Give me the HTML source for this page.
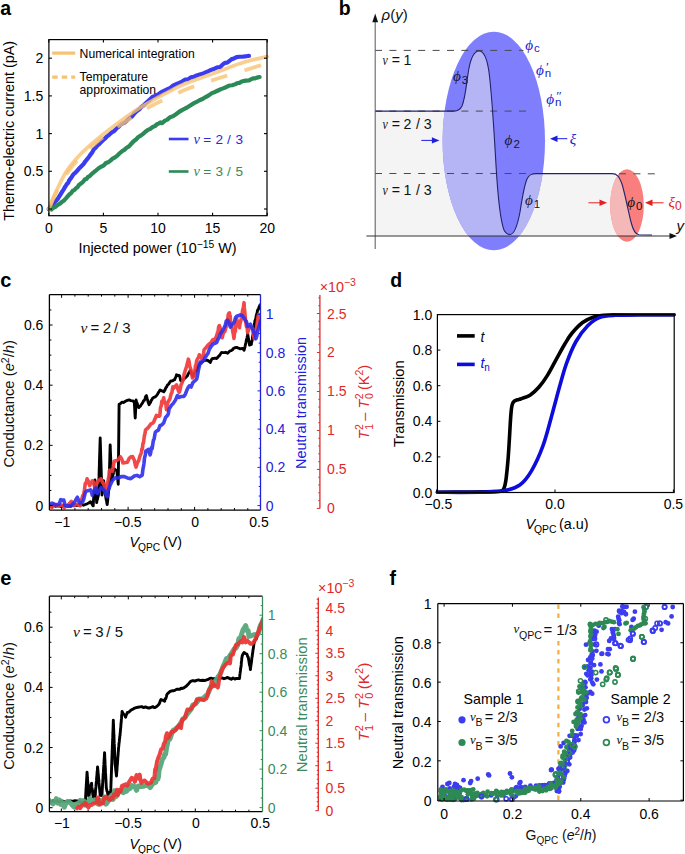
<!DOCTYPE html>
<html><head><meta charset="utf-8"><style>
html,body{margin:0;padding:0;background:#fff;width:685px;height:854px;overflow:hidden}
svg{display:block}
</style></head><body>
<svg width="685" height="854" viewBox="0 0 685 854" font-family="Liberation Sans, sans-serif">
<rect width="685" height="854" fill="#fff"/>
<text x="0.3" y="15.2" font-size="19.5" font-weight="bold" fill="#000">a</text>
<polyline points="48.80,209.00 49.11,208.90 49.52,208.62 50.01,207.38 50.60,206.68 51.28,206.29 52.08,205.80 52.95,204.38 53.90,202.85 54.95,201.83 56.12,200.70 57.45,199.34 58.96,196.94 60.70,194.15 62.67,190.95 63.73,189.35 64.79,187.23 65.89,185.67 66.99,183.94 68.08,183.01 69.18,180.37 71.30,177.65 73.36,174.41 75.44,172.68 77.53,170.28 79.58,167.95 81.59,166.00 83.53,164.06 85.37,161.28 87.15,159.24 88.88,156.91 90.58,154.49 92.28,152.15 94.01,149.03 95.71,147.60 97.37,145.48 99.03,144.33 100.73,142.40 102.54,140.76 104.49,139.04 106.69,136.71 109.12,134.82 111.64,132.39 114.15,131.19 116.50,128.40 118.58,126.83 120.28,124.89 121.69,123.92 122.95,123.21 124.20,122.81 125.61,121.71 127.31,120.13 129.42,117.98 131.82,116.62 134.37,113.35 136.91,111.05 139.31,109.28 141.40,106.90 143.05,105.78 144.35,104.74 145.50,103.29 146.70,102.36 148.14,101.06 150.03,99.46 152.43,97.05 155.20,95.94 158.21,94.50 161.35,92.11 164.49,90.65 167.50,89.19 170.41,87.94 173.32,85.47 176.23,84.19 179.14,82.94 182.05,81.61 184.97,79.63 187.90,79.42 190.83,77.38 193.76,76.90 196.70,75.40 199.63,74.53 202.55,73.83 205.51,72.41 208.52,71.13 211.51,69.67 214.46,68.67 217.32,67.26 220.03,67.16 222.55,64.63 224.91,62.79 227.17,62.61 229.40,61.00 231.66,59.14 234.00,58.48 236.61,57.19 239.47,56.74 242.36,56.73 245.05,56.44 247.32,55.98 248.96,55.94" fill="none" stroke="#3b3bef" stroke-width="4.2" stroke-linejoin="round" stroke-linecap="round" />
<polyline points="48.80,209.00 49.47,208.98 50.35,208.59 51.41,209.46 52.63,208.18 53.95,207.55 55.35,206.88 56.80,205.65 58.32,204.53 59.96,203.70 61.75,201.96 63.73,200.67 65.94,198.38 68.47,195.48 69.88,193.94 71.29,192.95 72.80,190.64 74.31,190.13 75.86,188.42 77.41,187.29 78.97,185.01 80.52,183.85 82.02,182.81 83.53,181.33 85.00,179.26 86.48,178.97 87.99,176.88 89.49,176.31 92.49,173.37 95.44,170.97 98.29,168.48 101.00,166.74 103.53,165.65 105.92,163.03 108.20,162.17 110.45,160.60 112.69,158.52 114.98,157.33 117.30,155.62 119.63,153.25 121.96,151.29 124.29,149.90 126.62,147.72 128.95,146.33 131.30,143.80 133.65,141.23 136.00,139.48 138.36,137.05 140.70,135.68 143.04,133.82 145.43,131.73 147.89,129.89 150.35,128.84 152.72,126.95 154.93,126.11 156.91,124.24 158.49,123.61 159.70,122.99 160.75,122.44 161.85,123.20 163.19,122.27 164.99,120.59 167.30,119.66 169.99,117.17 172.92,116.28 175.98,114.28 179.06,111.91 182.02,110.12 184.90,108.63 187.78,107.05 190.66,105.17 193.57,103.40 196.52,101.97 199.50,100.29 202.54,99.00 205.64,97.07 208.78,95.41 211.91,93.14 215.02,91.96 218.06,90.50 220.96,89.16 223.72,88.10 226.45,86.95 229.26,85.51 232.25,85.23 235.53,84.13 237.48,82.97 239.43,82.83 241.69,81.49 243.94,80.93 246.29,80.57 248.64,80.51 250.86,79.37 253.08,78.33 254.98,78.43 256.87,77.61 259.56,77.05" fill="none" stroke="#2b8a57" stroke-width="4.2" stroke-linejoin="round" stroke-linecap="round" />
<path d="M48.80,209.00 C49.91,206.36 52.59,199.32 55.46,193.17 C58.34,187.01 61.96,178.46 66.05,172.05 C70.15,165.65 74.77,160.24 80.03,154.71 C85.29,149.18 91.79,143.78 97.61,138.88 C103.44,133.98 109.15,129.70 114.98,125.31 C120.80,120.91 126.71,116.38 132.56,112.49 C138.40,108.59 144.62,105.07 150.03,101.93 C155.43,98.79 159.16,96.65 164.99,93.64 C170.81,90.62 175.80,87.61 184.97,83.84 C194.15,80.07 210.09,74.66 220.03,71.02 C229.96,67.37 236.73,64.36 244.60,61.97 C252.46,59.58 263.43,57.57 267.20,56.69" fill="none" stroke="#f7c272" stroke-width="3.8" stroke-linejoin="round" stroke-linecap="round" opacity="0.78"/>
<path d="M50.29,205.38 L50.43,205.02 L50.59,204.65 L50.74,204.27 L50.90,203.89 L51.06,203.49 L51.22,203.09 L51.39,202.69 L51.57,202.27 L51.74,201.85 L51.92,201.43 L52.10,201.00 L52.29,200.57 L52.47,200.13 L52.67,199.69 L52.86,199.25 L53.05,198.81 L53.25,198.36 L53.45,197.91 L53.66,197.47 L53.86,197.02 L54.07,196.57 L54.28,196.12 L54.49,195.68 L54.70,195.24 L54.92,194.79 L55.13,194.36 L55.35,193.92 L55.57,193.48 L55.80,193.04 L56.02,192.59 L56.25,192.13 L56.49,191.67 L56.72,191.20 L56.96,190.73 L57.20,190.25 L57.45,189.77 M66.27,174.32 L66.59,173.86 L66.90,173.40 L67.22,172.94 L67.54,172.48 L67.87,172.03 L68.19,171.58 L68.52,171.13 L68.85,170.68 L69.18,170.23 L69.51,169.79 L69.85,169.34 L70.19,168.90 L70.53,168.46 L70.87,168.02 L71.21,167.58 L71.56,167.14 L71.91,166.71 L72.25,166.27 L72.61,165.84 L72.96,165.41 L73.32,164.98 L73.67,164.55 L74.03,164.12 L74.40,163.69 L74.76,163.27 L75.13,162.84 L75.49,162.42 L75.87,161.99 L76.24,161.57 L76.61,161.15 L76.99,160.73 M89.90,147.98 L90.34,147.58 L90.79,147.18 L91.24,146.79 L91.69,146.40 L92.14,146.01 L92.60,145.62 L93.05,145.24 L93.50,144.85 L93.94,144.47 L94.39,144.09 L94.84,143.71 L95.29,143.34 L95.73,142.96 L96.18,142.59 L96.62,142.23 L97.06,141.86 L97.50,141.50 L97.94,141.14 L98.38,140.78 L98.81,140.43 L99.25,140.08 L99.69,139.73 L100.12,139.38 L100.56,139.04 L101.00,138.70 L101.43,138.36 L101.87,138.02 L102.31,137.69 L102.74,137.36 M117.60,126.83 L118.03,126.54 L118.47,126.24 L118.91,125.95 L119.34,125.66 L119.78,125.37 L120.22,125.08 L120.65,124.79 L121.09,124.51 L121.53,124.22 L121.96,123.94 L122.40,123.65 L122.84,123.37 L123.27,123.09 L123.71,122.81 L124.15,122.53 L124.58,122.25 L125.02,121.97 L125.46,121.69 L125.90,121.41 L126.33,121.13 L126.77,120.85 L127.21,120.58 L127.64,120.30 L128.08,120.03 L128.52,119.75 L128.95,119.48 L129.39,119.20 L129.83,118.93 L130.26,118.65 L130.70,118.38 L131.14,118.11 L131.57,117.83 M147.00,108.36 L147.43,108.11 L147.85,107.87 L148.28,107.63 L148.70,107.39 L149.12,107.15 L149.53,106.91 L149.95,106.68 L150.36,106.46 L150.76,106.23 L151.16,106.01 L151.56,105.80 L151.96,105.59 L152.34,105.38 L152.73,105.18 L153.11,104.98 L153.49,104.78 L153.86,104.59 L154.24,104.39 L154.61,104.21 L154.98,104.02 L155.34,103.84 L155.71,103.65 L156.07,103.47 L156.43,103.30 L156.80,103.12 L157.16,102.94 L157.52,102.77 L157.88,102.59 L158.25,102.42 L158.61,102.24 L158.98,102.07 L159.34,101.90 L159.71,101.72 L160.08,101.55 L160.45,101.37 L160.83,101.19 L161.21,101.02 L161.59,100.84 L161.97,100.66 L162.36,100.47 M178.24,92.87 L178.74,92.64 L179.24,92.41 L179.74,92.18 L180.23,91.95 L180.72,91.73 L181.21,91.51 L181.69,91.29 L182.18,91.08 L182.65,90.86 L183.13,90.66 L183.60,90.45 L184.06,90.25 L184.52,90.06 L184.97,89.87 L185.42,89.68 L185.86,89.50 L186.31,89.32 L186.74,89.14 L187.18,88.97 L187.60,88.80 L188.03,88.63 L188.46,88.47 L188.88,88.31 L189.30,88.15 L189.71,87.99 L190.13,87.84 L190.54,87.68 L190.95,87.53 L191.36,87.39 L191.77,87.24 L192.17,87.09 L192.58,86.95 L192.98,86.81 L193.39,86.66 L193.79,86.52 L194.20,86.38 M211.11,80.67 L211.57,80.52 L212.04,80.37 L212.50,80.22 L212.96,80.07 L213.43,79.92 L213.89,79.76 L214.36,79.61 L214.83,79.46 L215.29,79.31 L215.76,79.16 L216.23,79.01 L216.70,78.86 L217.18,78.71 L217.65,78.56 L218.12,78.41 L218.60,78.26 L219.07,78.11 L219.55,77.95 L220.03,77.80 L220.50,77.65 L220.98,77.50 L221.46,77.35 L221.94,77.20 L222.42,77.06 L222.91,76.91 L223.39,76.76 L223.87,76.61 L224.36,76.46 L224.84,76.31 L225.33,76.17 L225.81,76.02 L226.30,75.87 L226.79,75.72 L227.28,75.58 M244.49,70.35 L245.11,70.16 L245.73,69.97 L246.36,69.77 L247.00,69.58 L247.63,69.38 L248.27,69.18 L248.91,68.98 L249.54,68.79 L250.18,68.59 L250.81,68.39 L251.44,68.20 L252.06,68.00 L252.68,67.81 L253.29,67.62 L253.89,67.43 L254.48,67.25 L255.06,67.07 L255.63,66.89 L256.19,66.72 L256.73,66.55 L257.26,66.38 L257.77,66.22 L258.26,66.07 L258.74,65.92 L259.19,65.78 L259.63,65.64 L260.04,65.51 L260.43,65.39 L260.80,65.28 L261.14,65.17" fill="none" stroke="#f7c272" stroke-width="3.8" stroke-linecap="butt" opacity="0.78"/>
<rect x="48.9" y="39.6" width="218.1" height="176.1" fill="none" stroke="#000" stroke-width="1.2"/>
<line x1="48.80" y1="215.70" x2="48.80" y2="212.70" stroke="#000" stroke-width="1.1" />
<line x1="48.80" y1="39.60" x2="48.80" y2="42.60" stroke="#000" stroke-width="1.1" />
<text x="48.80" y="233.40" font-size="14" text-anchor="middle" fill="#000" >0</text>
<line x1="103.40" y1="215.70" x2="103.40" y2="212.70" stroke="#000" stroke-width="1.1" />
<line x1="103.40" y1="39.60" x2="103.40" y2="42.60" stroke="#000" stroke-width="1.1" />
<text x="103.40" y="233.40" font-size="14" text-anchor="middle" fill="#000" >5</text>
<line x1="158.00" y1="215.70" x2="158.00" y2="212.70" stroke="#000" stroke-width="1.1" />
<line x1="158.00" y1="39.60" x2="158.00" y2="42.60" stroke="#000" stroke-width="1.1" />
<text x="158.00" y="233.40" font-size="14" text-anchor="middle" fill="#000" >10</text>
<line x1="212.60" y1="215.70" x2="212.60" y2="212.70" stroke="#000" stroke-width="1.1" />
<line x1="212.60" y1="39.60" x2="212.60" y2="42.60" stroke="#000" stroke-width="1.1" />
<text x="212.60" y="233.40" font-size="14" text-anchor="middle" fill="#000" >15</text>
<line x1="267.20" y1="215.70" x2="267.20" y2="212.70" stroke="#000" stroke-width="1.1" />
<line x1="267.20" y1="39.60" x2="267.20" y2="42.60" stroke="#000" stroke-width="1.1" />
<text x="267.20" y="233.40" font-size="14" text-anchor="middle" fill="#000" >20</text>
<line x1="48.90" y1="209.00" x2="51.90" y2="209.00" stroke="#000" stroke-width="1.1" />
<line x1="267.00" y1="209.00" x2="264.00" y2="209.00" stroke="#000" stroke-width="1.1" />
<text x="43.20" y="214.00" font-size="14" text-anchor="end" fill="#000" >0</text>
<line x1="48.90" y1="171.30" x2="51.90" y2="171.30" stroke="#000" stroke-width="1.1" />
<line x1="267.00" y1="171.30" x2="264.00" y2="171.30" stroke="#000" stroke-width="1.1" />
<text x="43.20" y="176.30" font-size="14" text-anchor="end" fill="#000" >0.5</text>
<line x1="48.90" y1="133.60" x2="51.90" y2="133.60" stroke="#000" stroke-width="1.1" />
<line x1="267.00" y1="133.60" x2="264.00" y2="133.60" stroke="#000" stroke-width="1.1" />
<text x="43.20" y="138.60" font-size="14" text-anchor="end" fill="#000" >1</text>
<line x1="48.90" y1="95.90" x2="51.90" y2="95.90" stroke="#000" stroke-width="1.1" />
<line x1="267.00" y1="95.90" x2="264.00" y2="95.90" stroke="#000" stroke-width="1.1" />
<text x="43.20" y="100.90" font-size="14" text-anchor="end" fill="#000" >1.5</text>
<line x1="48.90" y1="58.20" x2="51.90" y2="58.20" stroke="#000" stroke-width="1.1" />
<line x1="267.00" y1="58.20" x2="264.00" y2="58.20" stroke="#000" stroke-width="1.1" />
<text x="43.20" y="63.20" font-size="14" text-anchor="end" fill="#000" >2</text>
<text transform="translate(14.3,130.8) rotate(-90)" font-size="14.4" text-anchor="middle" fill="#000">Thermo-electric current (pA)</text>
<text x="78.4" y="253.2" font-size="14.4" fill="#000">Injected power (10<tspan font-size="10.3" dy="-5.6">−15</tspan><tspan dy="5.6"> W)</tspan></text>
<line x1="52.20" y1="53.10" x2="75.20" y2="53.10" stroke="#f7c272" stroke-width="3.2" />
<text x="79.60" y="57.50" font-size="12.2" text-anchor="start" fill="#000" >Numerical integration</text>
<line x1="52.20" y1="77.20" x2="75.20" y2="77.20" stroke="#f7c272" stroke-width="3.2" stroke-dasharray="5.5 4"/>
<text x="79.60" y="81.30" font-size="12.2" text-anchor="start" fill="#000" >Temperature</text>
<text x="79.60" y="94.00" font-size="12.2" text-anchor="start" fill="#000" >approximation</text>
<line x1="168.80" y1="139.00" x2="188.50" y2="139.00" stroke="#3b3bef" stroke-width="2.6" />
<text y="143.8" font-size="13.6" fill="#2a2ae0" text-anchor="middle"><tspan x="196.6" font-family="Liberation Serif, serif" font-style="italic" font-size="14.5">ν</tspan><tspan x="207.2">=</tspan><tspan x="219.3">2</tspan><tspan x="229.0">/</tspan><tspan x="239.4">3</tspan></text>
<line x1="168.80" y1="171.50" x2="188.50" y2="171.50" stroke="#2b8a57" stroke-width="2.6" />
<text y="176.3" font-size="13.6" fill="#3a8a5a" text-anchor="middle"><tspan x="196.6" font-family="Liberation Serif, serif" font-style="italic" font-size="14.5">ν</tspan><tspan x="207.2">=</tspan><tspan x="219.3">3</tspan><tspan x="229.0">/</tspan><tspan x="239.4">5</tspan></text>
<text x="338.8" y="14.6" font-size="19.5" font-weight="bold" fill="#000">b</text>
<defs><clipPath id="under"><path d="M375,111.1 L454,111.1 C458,111.1 460,110 462,106 C465,99 466,88 468,74 C470,60 474,51 479,51 C484,51 487,58 489,72 C492,95 494,130 496,165 C498,200 501,222 504,230 C506,234 508,234.5 510,234.5 C514,234.5 517,228 520,212 C522,199 524,186 527,179 C529,175 531,173.6 536,173.6 L612,173.6 C617,173.6 619,176 622,184 C625,194 628,210 631,222 C633,230 635,234.5 639,234.8 L652,235 L652,236 L375,236 Z"/></clipPath></defs>
<path d="M375,111.1 L454,111.1 C458,111.1 460,110 462,106 C465,99 466,88 468,74 C470,60 474,51 479,51 C484,51 487,58 489,72 C492,95 494,130 496,165 C498,200 501,222 504,230 C506,234 508,234.5 510,234.5 C514,234.5 517,228 520,212 C522,199 524,186 527,179 C529,175 531,173.6 536,173.6 L612,173.6 C617,173.6 619,176 622,184 C625,194 628,210 631,222 C633,230 635,234.5 639,234.8 L652,235 L652,236 L375,236 Z" fill="#f4f4f4"/>
<ellipse cx="493.8" cy="141" rx="51.2" ry="109.3" fill="#7f7ffd"/>
<ellipse cx="493.8" cy="141" rx="51.2" ry="109.3" fill="#b5b5f5" clip-path="url(#under)"/>
<ellipse cx="627" cy="205.5" rx="16.8" ry="36.3" fill="#f97f7f"/>
<ellipse cx="627" cy="205.5" rx="16.8" ry="36.3" fill="#f5b8b8" clip-path="url(#under)"/>
<line x1="375.00" y1="50.40" x2="523.50" y2="50.40" stroke="#4a4a4a" stroke-width="1.0" stroke-dasharray="7 7.4"/>
<line x1="375.00" y1="111.10" x2="527.00" y2="111.10" stroke="#4a4a4a" stroke-width="1.0" stroke-dasharray="7 7.4"/>
<line x1="375.00" y1="173.50" x2="533.00" y2="173.50" stroke="#4a4a4a" stroke-width="1.0" stroke-dasharray="7 7.4"/>
<line x1="619.00" y1="173.80" x2="655.00" y2="173.80" stroke="#4a4a4a" stroke-width="1.0" stroke-dasharray="7 7.4"/>
<path d="M375,111.1 L454,111.1 C458,111.1 460,110 462,106 C465,99 466,88 468,74 C470,60 474,51 479,51 C484,51 487,58 489,72 C492,95 494,130 496,165 C498,200 501,222 504,230 C506,234 508,234.5 510,234.5 C514,234.5 517,228 520,212 C522,199 524,186 527,179 C529,175 531,173.6 536,173.6 L612,173.6 C617,173.6 619,176 622,184 C625,194 628,210 631,222 C633,230 635,234.5 639,234.8 L652,235" fill="none" stroke="#22226a" stroke-width="1.1"/>
<line x1="375.20" y1="249.00" x2="375.20" y2="20.00" stroke="#666" stroke-width="1.1" />
<path d="M375.2,13.6 L372.3,22.3 L378.1,22.3 Z" fill="#111"/>
<line x1="366.40" y1="236.00" x2="671.00" y2="236.00" stroke="#333" stroke-width="1.1" />
<path d="M677,236 L669.5,233 L669.5,239 Z" fill="#111"/>
<text x="381.6" y="19.6" font-size="15" fill="#111"><tspan font-style="italic">ρ</tspan>(<tspan font-style="italic">y</tspan>)</text>
<text x="676.5" y="231" font-size="15" fill="#111" font-style="italic">y</text>
<text transform="translate(385.1,65.1) scale(0.82,1)" font-size="14.5" fill="#111" text-anchor="middle" font-family="Liberation Serif, serif" font-style="italic">ν</text>
<text y="65.1" font-size="14.2" fill="#111" text-anchor="middle"><tspan x="396.0">=</tspan><tspan x="407.5">1</tspan></text>
<text transform="translate(385.1,128.9) scale(0.82,1)" font-size="14.5" fill="#111" text-anchor="middle" font-family="Liberation Serif, serif" font-style="italic">ν</text>
<text y="128.9" font-size="14.2" fill="#111" text-anchor="middle"><tspan x="396.0">=</tspan><tspan x="407.5">2</tspan><tspan x="418.0">/</tspan><tspan x="427.6">3</tspan></text>
<text transform="translate(385.1,194.9) scale(0.82,1)" font-size="14.5" fill="#111" text-anchor="middle" font-family="Liberation Serif, serif" font-style="italic">ν</text>
<text y="194.9" font-size="14.2" fill="#111" text-anchor="middle"><tspan x="396.0">=</tspan><tspan x="407.5">1</tspan><tspan x="418.0">/</tspan><tspan x="427.6">3</tspan></text>
<text x="525.2" y="49.6" fill="#2222cc" font-size="15.2" font-family="Liberation Serif, serif" font-style="italic">ϕ</text>
<text x="534.0" y="52.4" fill="#2222cc" font-size="11.5">c</text>
<text x="536.0" y="74.6" fill="#2222cc" font-size="15.2" font-family="Liberation Serif, serif" font-style="italic">ϕ</text>
<text x="544.8" y="77.39999999999999" fill="#2222cc" font-size="11.5">n</text>
<text x="545.3" y="71.39999999999999" fill="#2222cc" font-size="13" font-family="Liberation Serif, serif" font-style="italic">′</text>
<text x="546.2" y="103.6" fill="#2222cc" font-size="15.2" font-family="Liberation Serif, serif" font-style="italic">ϕ</text>
<text x="555.0" y="106.39999999999999" fill="#2222cc" font-size="11.5">n</text>
<text x="555.5" y="100.39999999999999" fill="#2222cc" font-size="13" font-family="Liberation Serif, serif" font-style="italic">″</text>
<text x="453.0" y="81.0" fill="#15153a" font-size="15.2" font-family="Liberation Serif, serif" font-style="italic">ϕ</text>
<text x="461.8" y="83.8" fill="#15153a" font-size="11.5">3</text>
<text x="504.6" y="145.4" fill="#15153a" font-size="15.2" font-family="Liberation Serif, serif" font-style="italic">ϕ</text>
<text x="513.4" y="148.20000000000002" fill="#15153a" font-size="11.5">2</text>
<text x="525.0" y="205.4" fill="#15153a" font-size="15.2" font-family="Liberation Serif, serif" font-style="italic">ϕ</text>
<text x="533.8" y="208.20000000000002" fill="#15153a" font-size="11.5">1</text>
<text x="627.3" y="207.4" fill="#111" font-size="15.2" font-family="Liberation Serif, serif" font-style="italic">ϕ</text>
<text x="636.0999999999999" y="210.20000000000002" fill="#111" font-size="11.5">0</text>
<text x="569.8" y="143.8" fill="#2222cc" font-size="15" font-family="Liberation Serif, serif" font-style="italic">ξ</text>
<text x="668.6" y="206.6" fill="#e02020" font-size="15" font-family="Liberation Serif, serif" font-style="italic">ξ</text>
<text x="675.0" y="209.8" fill="#e02020" font-size="12">0</text>
<line x1="421.30" y1="140.40" x2="434.40" y2="140.40" stroke="#1e1ee0" stroke-width="1.0" />
<path d="M439.4,140.4 L431.9,137.20000000000002 L431.9,143.6 Z" fill="#1e1ee0"/>
<line x1="567.30" y1="138.70" x2="555.00" y2="138.70" stroke="#1e1ee0" stroke-width="1.0" />
<path d="M550,138.7 L557.5,135.5 L557.5,141.89999999999998 Z" fill="#1e1ee0"/>
<line x1="588.40" y1="202.80" x2="602.00" y2="202.80" stroke="#e52020" stroke-width="1.0" />
<path d="M607,202.8 L599.5,199.60000000000002 L599.5,206.0 Z" fill="#e52020"/>
<line x1="663.50" y1="202.80" x2="650.00" y2="202.80" stroke="#e52020" stroke-width="1.0" />
<path d="M645,202.8 L652.5,199.60000000000002 L652.5,206.0 Z" fill="#e52020"/>
<text x="0.2" y="287.3" font-size="20" font-weight="bold" fill="#000">c</text>
<clipPath id="clipc"><rect x="49.4" y="294.6" width="211.1" height="215.5"/></clipPath><g clip-path="url(#clipc)">
<polyline points="48.50,505.63 50.26,505.76 52.01,506.36 53.76,505.47 55.51,506.25 57.26,505.77 59.02,505.68 60.77,506.57 62.52,505.67 64.27,505.65 66.02,506.04 67.78,506.27 69.53,505.79 71.28,506.02 73.03,505.28 74.78,505.51 76.53,505.51 78.29,504.94 80.04,504.77 81.79,504.63 83.54,505.21 85.29,504.50 87.05,503.79 88.80,503.03 90.55,501.76 91.43,503.26 92.30,504.57 93.18,505.83 93.29,503.66 93.40,502.27 93.51,499.96 93.62,499.05 93.73,496.70 93.83,495.46 93.94,495.01 94.05,491.93 94.16,491.70 94.27,489.90 94.38,488.02 94.49,486.78 94.60,485.22 94.71,483.87 94.82,481.71 94.93,480.06 95.06,481.52 95.18,482.91 95.31,484.90 95.43,486.13 95.56,488.53 95.68,488.77 95.81,490.68 95.93,492.31 96.06,493.36 96.18,496.72 96.31,496.35 96.43,498.87 96.56,500.32 96.68,502.57 97.03,499.83 97.38,499.80 97.73,497.59 98.08,496.45 98.43,494.93 98.48,493.82 98.53,491.44 98.58,490.34 98.63,488.95 98.68,488.04 98.73,484.54 98.77,484.73 98.82,482.89 98.87,480.66 98.92,479.44 98.97,477.51 99.02,476.88 99.07,474.65 99.12,472.88 99.16,471.29 99.21,469.72 99.26,468.15 99.31,466.25 99.36,465.99 99.41,462.62 99.46,460.28 99.50,460.27 99.55,458.67 99.60,457.32 99.65,455.48 99.70,453.93 99.75,452.56 99.80,451.27 99.85,449.05 99.89,447.50 99.94,446.96 99.99,444.74 100.04,442.48 100.09,442.39 100.14,440.11 100.19,438.02 100.23,439.23 100.28,441.48 100.33,442.55 100.38,444.03 100.43,445.50 100.48,447.44 100.53,449.75 100.58,450.64 100.62,451.76 100.67,454.29 100.72,455.61 100.77,457.54 100.82,459.28 100.87,460.24 100.92,461.84 100.96,463.46 101.01,464.55 101.06,466.95 101.11,468.85 101.16,469.89 101.21,471.28 101.26,472.86 101.30,474.20 101.35,475.77 101.40,477.54 101.45,478.92 101.50,480.68 101.55,481.75 101.60,484.20 101.65,485.65 101.69,486.69 101.74,487.76 101.79,490.37 101.84,492.45 101.89,493.20 101.94,494.99 102.13,493.30 102.33,492.30 102.52,490.03 102.72,489.33 102.91,487.19 103.11,486.19 103.30,484.23 103.49,482.55 103.69,480.70 103.88,482.35 104.08,484.10 104.27,486.07 104.47,487.44 104.66,488.57 104.86,490.63 105.05,492.45 105.25,493.49 105.44,495.00 105.73,496.54 106.03,498.69 106.32,500.18 106.61,501.12 106.90,503.31 107.19,504.62 107.37,502.75 107.54,501.98 107.72,500.13 107.89,497.77 108.07,496.47 108.24,494.99 108.42,492.81 108.59,491.38 108.77,490.07 108.95,487.62 108.99,486.67 109.04,485.26 109.08,483.57 109.13,481.15 109.17,480.30 109.22,478.18 109.26,477.24 109.31,475.66 109.35,473.90 109.40,471.87 109.44,470.36 109.49,469.42 109.54,467.04 109.58,466.08 109.63,464.49 109.67,462.55 109.72,462.16 109.76,459.52 109.81,458.87 109.85,455.41 109.90,453.71 109.94,453.58 109.99,451.83 110.04,449.81 110.08,448.34 110.13,445.92 110.17,445.02 110.24,446.35 110.30,448.35 110.36,450.48 110.43,451.74 110.49,453.52 110.55,454.67 110.62,456.42 110.68,458.30 110.75,459.75 110.81,462.08 110.87,462.75 110.94,465.63 111.00,465.97 111.06,468.52 111.13,469.32 111.19,472.05 111.25,473.00 111.32,474.75 111.38,476.54 111.45,477.55 111.51,479.00 111.57,480.55 111.90,480.12 112.23,477.72 112.56,476.23 112.89,474.95 113.22,474.33 113.54,471.12 113.87,470.48 114.20,468.73 115.52,469.95 116.83,470.10 116.98,471.97 117.14,474.08 117.30,475.96 117.45,477.54 117.61,477.99 117.76,479.96 117.92,481.44 118.07,482.43 118.23,484.22 118.25,483.33 118.27,481.49 118.28,479.70 118.30,478.70 118.32,476.09 118.34,475.17 118.35,473.33 118.37,471.68 118.39,470.32 118.41,468.57 118.42,466.99 118.44,465.38 118.46,464.52 118.48,461.90 118.49,460.88 118.51,459.09 118.53,457.05 118.55,455.95 118.56,453.59 118.58,452.89 118.60,450.39 118.62,448.92 118.63,447.68 118.65,446.30 118.67,444.72 118.69,443.10 118.70,440.99 118.72,439.04 118.74,438.11 118.76,436.39 118.77,434.21 118.79,433.47 118.81,431.51 118.83,429.37 118.84,428.39 118.86,425.98 118.88,424.57 118.90,423.54 118.91,421.04 118.93,420.15 118.95,417.91 118.97,417.24 118.98,414.97 119.00,413.77 119.02,411.40 119.04,410.31 119.05,409.28 119.07,407.44 119.09,404.80 119.11,404.27 120.60,403.54 122.08,402.16 123.84,402.46 125.59,401.10 127.34,400.47 129.09,399.94 130.84,400.66 132.60,400.86 133.47,401.33 134.35,402.66 134.45,404.97 134.54,405.80 134.64,408.04 134.74,409.18 134.83,411.89 134.93,413.43 135.03,414.97 135.13,416.38 135.22,418.04 135.30,416.30 135.38,415.02 135.46,413.37 135.54,411.87 135.62,409.87 135.70,409.33 135.78,407.01 135.86,405.92 135.94,404.30 136.02,401.71 136.10,400.06 136.63,402.48 137.15,403.14 137.68,404.75 138.20,406.00 138.73,407.55 140.00,406.47 140.91,405.37 141.82,403.84 142.74,402.68 143.65,400.68 144.33,400.31 145.02,398.73 145.70,396.43 146.39,395.64 146.84,397.37 147.30,399.16 147.76,400.40 148.21,402.54 148.67,403.45 149.12,404.69 149.85,403.20 150.58,402.38 151.31,400.31 152.04,399.50 152.77,397.94 153.99,397.32 155.21,396.91 156.42,395.79 157.34,394.47 158.25,392.84 159.16,391.46 160.07,389.94 161.29,390.72 162.51,391.10 163.72,391.80 164.45,390.80 165.18,389.47 165.91,387.66 166.64,386.97 167.37,385.14 168.59,384.14 169.81,382.19 171.02,380.84 172.24,380.88 173.45,380.16 174.67,379.61 175.28,378.08 175.89,376.94 176.50,374.78 177.86,375.61 179.23,375.52 179.69,376.10 180.15,378.30 180.60,380.55 181.06,380.79 182.43,380.79 183.80,379.23 185.01,378.02 186.23,377.00 187.45,375.82 188.13,373.96 188.81,373.09 189.50,371.86 190.18,370.52 190.87,371.32 191.55,373.73 192.24,375.26 192.92,376.42 193.83,373.79 194.74,373.11 195.66,370.82 196.57,370.39 197.30,369.08 198.03,366.86 198.76,365.20 199.49,364.54 200.22,363.16 201.44,362.03 202.65,361.66 203.87,360.49 205.69,360.39 207.52,360.30 208.89,361.24 210.26,362.51 211.17,360.35 212.08,358.63 212.99,358.55 214.82,358.16 216.64,358.51 217.55,357.61 218.47,356.42 219.38,355.66 220.29,354.23 221.51,352.51 222.73,352.62 223.94,352.58 225.77,352.32 227.59,353.22 228.81,352.02 230.02,350.94 231.24,350.65 232.46,349.78 233.67,348.28 234.89,347.73 236.72,347.35 238.54,348.20 240.36,348.80 242.19,348.40 243.10,348.83 244.01,350.34 244.38,348.91 244.74,347.88 245.11,346.27 245.47,344.26 245.84,342.79 246.14,341.34 246.45,339.78 246.75,339.02 247.06,337.55 247.36,335.93 247.66,333.90 247.92,335.25 248.19,337.33 248.45,338.33 248.71,340.16 248.97,340.87 249.23,342.99 249.49,345.13 251.31,344.47 251.57,342.51 251.84,341.54 252.10,340.80 252.36,339.14 252.62,336.76 252.88,335.14 253.14,333.77 253.37,331.78 253.59,330.62 253.82,328.87 254.05,326.74 254.28,325.55 254.51,324.10 254.74,322.23 254.96,320.72 255.35,319.87 255.75,318.75 256.14,316.20 256.53,314.57 256.92,313.43 257.31,311.53 257.70,309.86 258.39,309.33 259.07,306.87 259.75,305.64 260.44,304.60" fill="none" stroke="#000" stroke-width="2.9" stroke-linejoin="round" stroke-linecap="round" />
<polyline points="48.50,505.63 52.01,507.41 54.64,504.27 58.14,506.12 61.64,505.05 64.27,507.81 66.02,506.03 67.78,505.19 71.28,501.38 73.91,505.68 77.41,504.16 80.04,505.84 80.70,503.40 81.35,501.12 82.01,498.55 82.67,495.54 83.54,495.09 84.42,490.02 85.29,483.42 86.17,482.79 87.05,478.82 88.36,481.25 89.67,485.70 92.30,480.91 93.62,481.87 94.93,488.37 96.24,485.07 97.56,481.87 99.31,479.81 101.06,478.82 102.23,481.65 103.40,483.42 104.57,486.42 107.19,489.65 107.63,483.78 108.07,480.55 108.51,478.12 108.95,476.79 109.38,471.06 109.82,470.04 112.45,471.24 112.89,468.27 113.33,467.01 113.76,463.25 114.20,461.31 116.83,460.46 118.58,459.34 120.33,456.67 121.65,458.82 122.96,462.96 127.34,462.17 129.09,458.43 130.84,456.72 132.60,456.63 134.35,460.22 135.22,464.50 136.10,467.08 137.41,462.78 138.73,460.37 140.04,455.82 141.36,452.57 141.87,448.75 142.39,449.12 142.90,443.64 143.42,443.13 143.93,439.16 144.44,435.37 144.96,433.79 145.47,430.19 148.21,427.68 150.95,423.88 152.32,423.31 153.69,422.14 154.60,419.64 155.51,417.91 156.42,415.34 159.16,416.26 159.84,415.48 160.53,407.41 161.21,406.00 161.90,401.02 162.81,401.55 163.72,397.74 164.41,402.77 165.09,402.63 165.78,403.04 166.46,409.69 167.37,404.00 168.28,401.36 169.20,400.16 170.11,398.19 171.02,394.21 171.93,392.45 172.85,386.82 173.76,388.17 176.50,384.83 177.41,387.49 178.32,390.58 179.23,392.33 180.15,389.43 181.06,384.81 181.97,382.97 182.66,380.94 183.34,379.05 184.02,374.69 184.71,372.19 185.62,369.40 186.53,366.53 187.45,362.83 188.36,359.13 189.04,361.37 189.73,366.39 190.41,367.97 191.09,370.31 192.46,377.90 193.83,376.51 194.38,374.04 194.93,370.14 195.47,365.59 196.02,365.68 196.57,361.09 197.48,358.81 198.39,357.74 199.31,354.72 200.68,356.94 202.04,359.36 202.73,359.54 203.41,354.67 204.10,349.70 204.78,349.03 206.61,346.78 208.43,344.77 210.71,342.96 212.99,339.47 214.82,340.25 216.64,335.79 217.33,333.24 218.01,331.77 218.70,326.62 219.38,325.52 220.06,327.78 220.75,332.72 221.43,333.06 222.12,337.80 223.49,332.47 224.85,331.60 225.54,328.80 226.22,326.28 226.91,325.15 227.59,320.74 228.20,314.89 228.81,313.27 229.42,312.95 229.78,315.43 230.15,315.83 230.51,321.34 230.88,322.00 231.24,325.78 232.15,328.08 233.07,332.82 233.98,338.42 234.43,334.17 234.89,330.60 235.35,331.38 235.80,324.33 236.26,321.88 236.72,318.98 237.63,322.22 238.54,323.63 239.45,327.72 240.14,322.90 240.82,320.90 241.51,317.23 242.19,313.00 242.80,309.32 243.41,307.57 244.01,302.67 244.32,307.66 244.62,310.79 244.93,313.92 245.23,316.66 245.54,320.30 245.84,322.55 246.45,326.79 247.06,326.65 247.66,332.74 249.03,328.00 250.40,326.90 252.23,327.93 252.83,330.77 253.44,333.30 254.05,338.57 254.74,333.19 255.42,330.29 256.10,329.54 256.79,326.71 257.24,323.36 257.70,318.77 258.16,316.01 258.61,314.48 259.07,315.48 259.53,320.96 259.98,324.32 260.44,326.50" fill="none" stroke="#f03a3a" stroke-width="3.6" stroke-linejoin="round" stroke-linecap="round" opacity="0.92"/>
<polyline points="48.50,504.75 52.01,503.10 55.51,504.87 59.02,504.32 60.77,499.60 62.52,500.28 63.83,500.08 65.15,505.48 68.65,505.76 70.84,506.24 73.03,503.54 74.49,502.27 75.95,499.47 77.41,497.26 78.72,500.97 80.04,503.05 82.67,501.89 83.54,499.82 84.42,496.05 85.29,492.47 86.17,491.30 90.55,489.90 91.43,491.84 92.30,495.22 93.47,492.20 94.64,490.02 95.81,487.88 96.68,492.96 97.56,493.38 98.73,491.22 99.89,489.43 101.06,487.69 102.81,488.74 104.57,491.20 107.19,496.75 107.85,490.88 108.51,489.46 109.16,487.97 109.82,486.11 112.45,480.47 115.08,477.75 118.58,478.03 121.21,476.58 123.84,476.46 127.34,477.90 130.84,478.62 134.35,476.04 136.98,475.37 139.60,476.70 142.23,475.09 142.67,471.28 143.11,467.90 143.55,466.36 143.98,463.23 144.42,458.71 144.86,456.50 145.30,455.32 145.74,451.25 148.36,449.35 149.24,452.43 150.12,454.80 150.77,452.19 151.43,447.44 152.09,448.86 152.74,444.44 153.40,440.28 154.06,439.26 154.71,435.45 155.37,432.06 156.94,430.86 158.51,429.86 160.07,425.40 161.90,424.96 163.72,422.81 165.55,417.53 167.37,415.57 168.28,414.03 169.20,408.56 170.11,407.41 171.02,405.82 173.30,403.37 175.58,399.87 177.41,395.58 179.23,397.39 181.51,396.45 183.80,396.35 185.16,394.56 186.53,391.06 187.90,387.87 189.27,385.91 191.09,387.00 192.92,382.52 194.74,380.97 196.57,379.25 197.18,377.00 197.79,373.88 198.39,370.47 199.31,366.47 200.22,361.97 201.13,363.10 202.50,361.46 203.87,360.16 205.24,357.40 206.61,355.29 207.97,353.41 209.34,349.19 211.17,346.34 212.99,344.08 214.82,343.24 216.64,342.48 217.86,339.50 219.08,337.48 220.29,333.95 222.12,331.37 223.94,328.02 225.16,325.58 226.37,320.78 227.59,320.23 228.96,322.34 230.33,327.05 231.70,325.40 233.07,323.60 234.28,322.13 235.50,317.64 236.72,316.24 240.36,315.01 242.19,315.54 244.01,318.09 245.23,320.23 246.45,321.68 247.66,326.58 250.40,324.13 251.77,327.53 253.14,329.84 254.05,332.93 254.96,332.66 255.88,338.82 256.79,335.90 257.70,330.98 258.61,327.72 259.22,325.89 259.83,324.20 260.44,321.02" fill="none" stroke="#2e2eec" stroke-width="3.6" stroke-linejoin="round" stroke-linecap="round" opacity="0.9"/>
</g>
<line x1="49.40" y1="294.60" x2="260.50" y2="294.60" stroke="#000" stroke-width="1.3" />
<line x1="49.40" y1="294.60" x2="49.40" y2="510.10" stroke="#000" stroke-width="1.3" />
<line x1="49.40" y1="510.10" x2="260.50" y2="510.10" stroke="#000" stroke-width="1.3" />
<line x1="260.50" y1="294.60" x2="260.50" y2="510.10" stroke="#2020dd" stroke-width="1.3" />
<line x1="61.60" y1="510.10" x2="61.60" y2="506.90" stroke="#000" stroke-width="1.0" />
<line x1="61.60" y1="294.60" x2="61.60" y2="297.80" stroke="#000" stroke-width="1.0" />
<line x1="74.90" y1="510.10" x2="74.90" y2="508.10" stroke="#000" stroke-width="1.0" />
<line x1="74.90" y1="294.60" x2="74.90" y2="296.60" stroke="#000" stroke-width="1.0" />
<line x1="88.20" y1="510.10" x2="88.20" y2="508.10" stroke="#000" stroke-width="1.0" />
<line x1="88.20" y1="294.60" x2="88.20" y2="296.60" stroke="#000" stroke-width="1.0" />
<line x1="101.50" y1="510.10" x2="101.50" y2="508.10" stroke="#000" stroke-width="1.0" />
<line x1="101.50" y1="294.60" x2="101.50" y2="296.60" stroke="#000" stroke-width="1.0" />
<line x1="114.80" y1="510.10" x2="114.80" y2="508.10" stroke="#000" stroke-width="1.0" />
<line x1="114.80" y1="294.60" x2="114.80" y2="296.60" stroke="#000" stroke-width="1.0" />
<line x1="128.10" y1="510.10" x2="128.10" y2="506.90" stroke="#000" stroke-width="1.0" />
<line x1="128.10" y1="294.60" x2="128.10" y2="297.80" stroke="#000" stroke-width="1.0" />
<line x1="141.40" y1="510.10" x2="141.40" y2="508.10" stroke="#000" stroke-width="1.0" />
<line x1="141.40" y1="294.60" x2="141.40" y2="296.60" stroke="#000" stroke-width="1.0" />
<line x1="154.70" y1="510.10" x2="154.70" y2="508.10" stroke="#000" stroke-width="1.0" />
<line x1="154.70" y1="294.60" x2="154.70" y2="296.60" stroke="#000" stroke-width="1.0" />
<line x1="168.00" y1="510.10" x2="168.00" y2="508.10" stroke="#000" stroke-width="1.0" />
<line x1="168.00" y1="294.60" x2="168.00" y2="296.60" stroke="#000" stroke-width="1.0" />
<line x1="181.30" y1="510.10" x2="181.30" y2="508.10" stroke="#000" stroke-width="1.0" />
<line x1="181.30" y1="294.60" x2="181.30" y2="296.60" stroke="#000" stroke-width="1.0" />
<line x1="194.60" y1="510.10" x2="194.60" y2="506.90" stroke="#000" stroke-width="1.0" />
<line x1="194.60" y1="294.60" x2="194.60" y2="297.80" stroke="#000" stroke-width="1.0" />
<line x1="207.90" y1="510.10" x2="207.90" y2="508.10" stroke="#000" stroke-width="1.0" />
<line x1="207.90" y1="294.60" x2="207.90" y2="296.60" stroke="#000" stroke-width="1.0" />
<line x1="221.20" y1="510.10" x2="221.20" y2="508.10" stroke="#000" stroke-width="1.0" />
<line x1="221.20" y1="294.60" x2="221.20" y2="296.60" stroke="#000" stroke-width="1.0" />
<line x1="234.50" y1="510.10" x2="234.50" y2="508.10" stroke="#000" stroke-width="1.0" />
<line x1="234.50" y1="294.60" x2="234.50" y2="296.60" stroke="#000" stroke-width="1.0" />
<line x1="247.80" y1="510.10" x2="247.80" y2="508.10" stroke="#000" stroke-width="1.0" />
<line x1="247.80" y1="294.60" x2="247.80" y2="296.60" stroke="#000" stroke-width="1.0" />
<text x="62.20" y="526.60" font-size="14" text-anchor="middle" fill="#000" >−1</text>
<text x="127.80" y="526.60" font-size="14" text-anchor="middle" fill="#000" >−0.5</text>
<text x="195.10" y="526.60" font-size="14" text-anchor="middle" fill="#000" >0</text>
<text x="259.00" y="526.60" font-size="14" text-anchor="middle" fill="#000" >0.5</text>
<line x1="49.40" y1="505.50" x2="52.60" y2="505.50" stroke="#000" stroke-width="1.0" />
<line x1="49.40" y1="490.46" x2="51.40" y2="490.46" stroke="#000" stroke-width="1.0" />
<line x1="49.40" y1="475.42" x2="51.40" y2="475.42" stroke="#000" stroke-width="1.0" />
<line x1="49.40" y1="460.38" x2="51.40" y2="460.38" stroke="#000" stroke-width="1.0" />
<line x1="49.40" y1="445.34" x2="52.60" y2="445.34" stroke="#000" stroke-width="1.0" />
<line x1="49.40" y1="430.30" x2="51.40" y2="430.30" stroke="#000" stroke-width="1.0" />
<line x1="49.40" y1="415.26" x2="51.40" y2="415.26" stroke="#000" stroke-width="1.0" />
<line x1="49.40" y1="400.22" x2="51.40" y2="400.22" stroke="#000" stroke-width="1.0" />
<line x1="49.40" y1="385.18" x2="52.60" y2="385.18" stroke="#000" stroke-width="1.0" />
<line x1="49.40" y1="370.14" x2="51.40" y2="370.14" stroke="#000" stroke-width="1.0" />
<line x1="49.40" y1="355.10" x2="51.40" y2="355.10" stroke="#000" stroke-width="1.0" />
<line x1="49.40" y1="340.06" x2="51.40" y2="340.06" stroke="#000" stroke-width="1.0" />
<line x1="49.40" y1="325.02" x2="52.60" y2="325.02" stroke="#000" stroke-width="1.0" />
<line x1="49.40" y1="309.98" x2="51.40" y2="309.98" stroke="#000" stroke-width="1.0" />
<text x="43.40" y="510.50" font-size="14" text-anchor="end" fill="#000" >0</text>
<text x="43.40" y="450.34" font-size="14" text-anchor="end" fill="#000" >0.2</text>
<text x="43.40" y="390.18" font-size="14" text-anchor="end" fill="#000" >0.4</text>
<text x="43.40" y="330.02" font-size="14" text-anchor="end" fill="#000" >0.6</text>
<line x1="260.50" y1="505.60" x2="257.50" y2="505.60" stroke="#2020dd" stroke-width="1.0" />
<line x1="260.50" y1="496.04" x2="258.70" y2="496.04" stroke="#2020dd" stroke-width="1.0" />
<line x1="260.50" y1="486.48" x2="258.70" y2="486.48" stroke="#2020dd" stroke-width="1.0" />
<line x1="260.50" y1="476.92" x2="258.70" y2="476.92" stroke="#2020dd" stroke-width="1.0" />
<line x1="260.50" y1="467.36" x2="257.50" y2="467.36" stroke="#2020dd" stroke-width="1.0" />
<line x1="260.50" y1="457.80" x2="258.70" y2="457.80" stroke="#2020dd" stroke-width="1.0" />
<line x1="260.50" y1="448.24" x2="258.70" y2="448.24" stroke="#2020dd" stroke-width="1.0" />
<line x1="260.50" y1="438.68" x2="258.70" y2="438.68" stroke="#2020dd" stroke-width="1.0" />
<line x1="260.50" y1="429.12" x2="257.50" y2="429.12" stroke="#2020dd" stroke-width="1.0" />
<line x1="260.50" y1="419.56" x2="258.70" y2="419.56" stroke="#2020dd" stroke-width="1.0" />
<line x1="260.50" y1="410.00" x2="258.70" y2="410.00" stroke="#2020dd" stroke-width="1.0" />
<line x1="260.50" y1="400.44" x2="258.70" y2="400.44" stroke="#2020dd" stroke-width="1.0" />
<line x1="260.50" y1="390.88" x2="257.50" y2="390.88" stroke="#2020dd" stroke-width="1.0" />
<line x1="260.50" y1="381.32" x2="258.70" y2="381.32" stroke="#2020dd" stroke-width="1.0" />
<line x1="260.50" y1="371.76" x2="258.70" y2="371.76" stroke="#2020dd" stroke-width="1.0" />
<line x1="260.50" y1="362.20" x2="258.70" y2="362.20" stroke="#2020dd" stroke-width="1.0" />
<line x1="260.50" y1="352.64" x2="257.50" y2="352.64" stroke="#2020dd" stroke-width="1.0" />
<line x1="260.50" y1="343.08" x2="258.70" y2="343.08" stroke="#2020dd" stroke-width="1.0" />
<line x1="260.50" y1="333.52" x2="258.70" y2="333.52" stroke="#2020dd" stroke-width="1.0" />
<line x1="260.50" y1="323.96" x2="258.70" y2="323.96" stroke="#2020dd" stroke-width="1.0" />
<line x1="260.50" y1="314.40" x2="257.50" y2="314.40" stroke="#2020dd" stroke-width="1.0" />
<line x1="260.50" y1="304.84" x2="258.70" y2="304.84" stroke="#2020dd" stroke-width="1.0" />
<text x="265.80" y="510.60" font-size="14" text-anchor="start" fill="#2020dd" >0</text>
<text x="265.80" y="472.36" font-size="14" text-anchor="start" fill="#2020dd" >0.2</text>
<text x="265.80" y="434.12" font-size="14" text-anchor="start" fill="#2020dd" >0.4</text>
<text x="265.80" y="395.88" font-size="14" text-anchor="start" fill="#2020dd" >0.6</text>
<text x="265.80" y="357.64" font-size="14" text-anchor="start" fill="#2020dd" >0.8</text>
<text x="265.80" y="319.40" font-size="14" text-anchor="start" fill="#2020dd" >1</text>
<line x1="319.90" y1="295.10" x2="319.90" y2="508.40" stroke="#e02828" stroke-width="1.3" />
<line x1="319.90" y1="508.40" x2="316.90" y2="508.40" stroke="#e02828" stroke-width="1.0" />
<line x1="319.90" y1="500.60" x2="318.30" y2="500.60" stroke="#e02828" stroke-width="1.0" />
<line x1="319.90" y1="492.81" x2="318.30" y2="492.81" stroke="#e02828" stroke-width="1.0" />
<line x1="319.90" y1="485.01" x2="318.30" y2="485.01" stroke="#e02828" stroke-width="1.0" />
<line x1="319.90" y1="477.22" x2="318.30" y2="477.22" stroke="#e02828" stroke-width="1.0" />
<line x1="319.90" y1="469.42" x2="316.90" y2="469.42" stroke="#e02828" stroke-width="1.0" />
<line x1="319.90" y1="461.62" x2="318.30" y2="461.62" stroke="#e02828" stroke-width="1.0" />
<line x1="319.90" y1="453.83" x2="318.30" y2="453.83" stroke="#e02828" stroke-width="1.0" />
<line x1="319.90" y1="446.03" x2="318.30" y2="446.03" stroke="#e02828" stroke-width="1.0" />
<line x1="319.90" y1="438.24" x2="318.30" y2="438.24" stroke="#e02828" stroke-width="1.0" />
<line x1="319.90" y1="430.44" x2="316.90" y2="430.44" stroke="#e02828" stroke-width="1.0" />
<line x1="319.90" y1="422.64" x2="318.30" y2="422.64" stroke="#e02828" stroke-width="1.0" />
<line x1="319.90" y1="414.85" x2="318.30" y2="414.85" stroke="#e02828" stroke-width="1.0" />
<line x1="319.90" y1="407.05" x2="318.30" y2="407.05" stroke="#e02828" stroke-width="1.0" />
<line x1="319.90" y1="399.26" x2="318.30" y2="399.26" stroke="#e02828" stroke-width="1.0" />
<line x1="319.90" y1="391.46" x2="316.90" y2="391.46" stroke="#e02828" stroke-width="1.0" />
<line x1="319.90" y1="383.66" x2="318.30" y2="383.66" stroke="#e02828" stroke-width="1.0" />
<line x1="319.90" y1="375.87" x2="318.30" y2="375.87" stroke="#e02828" stroke-width="1.0" />
<line x1="319.90" y1="368.07" x2="318.30" y2="368.07" stroke="#e02828" stroke-width="1.0" />
<line x1="319.90" y1="360.28" x2="318.30" y2="360.28" stroke="#e02828" stroke-width="1.0" />
<line x1="319.90" y1="352.48" x2="316.90" y2="352.48" stroke="#e02828" stroke-width="1.0" />
<line x1="319.90" y1="344.68" x2="318.30" y2="344.68" stroke="#e02828" stroke-width="1.0" />
<line x1="319.90" y1="336.89" x2="318.30" y2="336.89" stroke="#e02828" stroke-width="1.0" />
<line x1="319.90" y1="329.09" x2="318.30" y2="329.09" stroke="#e02828" stroke-width="1.0" />
<line x1="319.90" y1="321.30" x2="318.30" y2="321.30" stroke="#e02828" stroke-width="1.0" />
<line x1="319.90" y1="313.50" x2="316.90" y2="313.50" stroke="#e02828" stroke-width="1.0" />
<line x1="319.90" y1="305.70" x2="318.30" y2="305.70" stroke="#e02828" stroke-width="1.0" />
<line x1="319.90" y1="297.91" x2="318.30" y2="297.91" stroke="#e02828" stroke-width="1.0" />
<text x="327.10" y="513.40" font-size="14" text-anchor="start" fill="#e02828" >0</text>
<text x="327.10" y="474.42" font-size="14" text-anchor="start" fill="#e02828" >0.5</text>
<text x="327.10" y="435.44" font-size="14" text-anchor="start" fill="#e02828" >1</text>
<text x="327.10" y="396.46" font-size="14" text-anchor="start" fill="#e02828" >1.5</text>
<text x="327.10" y="357.48" font-size="14" text-anchor="start" fill="#e02828" >2</text>
<text x="327.10" y="318.50" font-size="14" text-anchor="start" fill="#e02828" >2.5</text>
<text x="319.7" y="291.8" font-size="14.3" fill="#e02828">×10<tspan font-size="10.5" dy="-6.2">−3</tspan></text>
<text transform="translate(14.3,403.8) rotate(-90)" font-size="14.8" text-anchor="middle" fill="#111">Conductance (<tspan font-style="italic">e</tspan><tspan font-size="10.5" dy="-5.5">2</tspan><tspan dy="5.5">/</tspan><tspan font-style="italic">h</tspan>)</text>
<text transform="translate(306.3,402.9) rotate(-90)" font-size="14.5" text-anchor="middle" fill="#2020dd">Neutral transmission</text>
<g transform="translate(368.9,402.0) rotate(-90) scale(1.0)"><text font-size="14.6" text-anchor="middle" fill="#e02828"><tspan font-style="italic">T</tspan><tspan font-size="10.5" dx="0.3" dy="-5.6">2</tspan><tspan font-size="10.5" dx="-5.6" dy="9.4">1</tspan><tspan dx="3.2" dy="-3.8">– </tspan><tspan font-style="italic">T</tspan><tspan font-size="10.5" dx="0.3" dy="-5.6">2</tspan><tspan font-size="10.5" dx="-5.6" dy="9.4">0</tspan><tspan dx="3.2" dy="-3.8">(K</tspan><tspan font-size="10.5" dy="-5.6">2</tspan><tspan dy="5.6">)</tspan></text></g>
<text x="129.6" y="547.0" font-size="14.2" fill="#000"><tspan font-style="italic">V</tspan><tspan font-size="10.2" dx="-1.0" dy="4.4">QPC</tspan><tspan dx="-1.0" dy="-4.4"> (V)</tspan></text>
<text x="80.6" y="332.6" font-size="15.5" fill="#111" font-family="Liberation Serif, serif" font-style="italic">ν</text>
<text y="332.6" font-size="15" fill="#111" text-anchor="middle"><tspan x="94.9">=</tspan><tspan x="107.0">2</tspan><tspan x="116.0">/</tspan><tspan x="126.5">3</tspan></text>
<text x="0.2" y="585.3" font-size="20" font-weight="bold" fill="#000">e</text>
<clipPath id="clipe"><rect x="49.4" y="596.2" width="213.1" height="215.5"/></clipPath><g clip-path="url(#clipe)">
<polyline points="48.50,801.25 50.06,801.27 51.62,801.77 53.18,800.77 54.73,801.62 56.29,801.03 57.85,801.01 59.40,801.97 60.96,801.16 62.52,801.06 64.08,801.44 65.63,801.66 67.19,801.18 68.75,801.49 70.31,800.83 71.86,801.14 73.42,801.15 74.98,800.78 76.53,801.02 77.99,800.89 79.45,801.72 80.91,801.96 82.37,802.10 83.83,802.48 85.29,802.29 85.39,801.02 85.48,799.57 85.57,798.20 85.66,795.89 85.76,794.49 85.85,792.17 85.94,791.26 86.03,788.90 86.12,787.65 86.22,787.19 86.31,784.11 86.40,783.87 86.49,782.06 86.59,780.18 86.68,778.93 86.77,777.36 86.86,776.00 86.95,773.83 87.05,772.18 87.16,773.70 87.28,775.17 87.40,777.23 87.51,778.53 87.63,781.00 87.75,781.31 87.86,783.29 87.98,784.99 88.10,786.11 88.21,789.55 88.33,789.24 88.45,791.83 88.56,793.36 88.68,795.98 88.80,796.33 89.09,795.79 89.38,793.42 89.67,792.13 89.97,790.34 90.26,789.37 90.55,787.01 90.84,785.93 91.13,784.57 91.43,783.35 91.62,783.33 91.82,786.65 92.01,787.95 92.20,788.86 92.40,790.78 92.59,791.99 92.79,794.49 92.98,795.40 93.18,796.81 94.05,797.64 94.93,798.57 95.06,796.96 95.19,795.07 95.32,794.82 95.46,791.45 95.59,789.11 95.72,789.10 95.85,787.52 95.98,786.17 96.11,784.34 96.24,782.79 96.38,781.42 96.51,780.13 96.64,777.92 96.77,776.38 96.90,775.84 97.03,773.63 97.16,771.37 97.30,771.28 97.43,769.01 97.56,766.93 97.70,768.11 97.85,770.33 98.00,771.38 98.14,772.84 98.29,774.29 98.43,776.20 98.58,778.48 98.73,779.35 98.87,780.45 99.02,782.96 99.16,784.24 99.31,786.15 99.46,787.87 99.60,788.81 99.75,790.38 99.89,791.98 100.04,793.05 100.19,795.30 101.94,795.49 102.04,793.58 102.14,791.77 102.24,790.15 102.34,788.30 102.44,786.67 102.54,785.23 102.65,783.42 102.75,781.98 102.85,779.85 102.95,779.10 103.05,777.35 103.15,775.19 103.25,773.06 103.35,772.47 103.45,771.35 103.55,768.91 103.66,767.41 103.76,765.75 103.86,764.68 103.96,762.36 104.06,761.60 104.16,759.40 104.26,758.34 104.36,756.32 104.46,754.58 104.57,752.67 104.65,754.35 104.72,756.14 104.80,758.14 104.88,759.55 104.96,760.72 105.04,762.81 105.12,764.66 105.20,765.74 105.28,767.21 105.36,768.82 105.44,770.95 105.52,772.42 105.60,773.36 105.68,775.54 105.76,776.74 105.84,778.21 105.92,780.70 106.00,782.11 106.08,783.00 106.16,784.96 106.24,786.74 106.32,787.94 106.67,789.46 107.02,791.21 107.37,791.51 107.72,793.86 108.07,795.32 108.95,794.17 109.82,792.18 110.70,791.70 110.76,789.61 110.82,788.64 110.88,787.05 110.94,785.26 111.00,783.20 111.06,781.67 111.12,780.71 111.18,778.31 111.23,777.32 111.29,775.72 111.35,773.75 111.41,773.34 111.47,770.68 111.53,770.00 111.59,766.52 111.65,764.80 111.71,764.64 111.77,762.87 111.83,760.83 111.89,759.34 111.95,756.89 112.01,755.85 112.07,754.06 112.13,752.81 112.19,751.70 112.25,749.71 112.31,748.24 112.37,746.15 112.43,744.65 112.49,743.29 112.55,741.50 112.61,740.58 112.67,738.00 112.73,737.64 112.79,734.73 112.85,734.04 112.91,731.60 112.97,731.08 113.03,728.78 113.09,727.29 113.15,725.83 113.21,723.60 113.27,721.80 113.33,720.11 113.39,722.80 113.45,723.52 113.52,725.16 113.58,727.00 113.65,729.50 113.71,729.42 113.78,731.90 113.84,733.20 113.91,735.21 113.97,735.75 114.04,737.97 114.10,740.11 114.17,742.03 114.23,743.63 114.30,744.12 114.36,746.12 114.43,747.63 114.49,748.65 114.56,750.22 114.62,752.79 114.69,754.15 114.75,755.57 114.82,757.77 114.88,758.36 114.95,760.64 115.01,762.00 115.08,763.56 115.25,765.33 115.43,766.73 115.60,768.30 115.78,769.83 115.95,772.12 116.13,772.64 116.30,774.77 116.48,776.01 116.60,774.13 116.71,773.09 116.83,770.79 116.95,770.14 117.06,767.69 117.18,766.28 117.30,765.09 117.41,763.76 117.53,762.24 117.65,760.67 117.76,758.62 117.88,756.73 118.00,755.85 118.11,754.18 118.23,752.06 118.35,751.37 118.46,749.46 118.58,747.56 118.76,746.44 118.93,744.06 119.11,742.69 119.28,741.69 119.46,739.23 119.63,738.37 119.81,736.17 119.98,735.53 120.16,733.30 120.33,732.10 120.47,729.75 120.60,728.66 120.74,727.62 120.87,725.78 121.01,723.13 121.14,722.76 121.28,721.13 121.41,718.94 121.55,718.13 121.68,715.40 121.82,714.22 121.95,713.14 122.08,711.38 122.96,713.35 123.84,714.23 124.71,715.04 125.59,717.26 126.17,715.05 126.76,714.18 127.34,712.43 128.51,712.38 129.68,711.38 130.84,710.30 132.16,709.50 133.47,708.85 134.79,708.04 136.10,707.62 138.05,707.27 140.00,706.91 141.82,706.60 143.65,707.64 145.47,706.86 147.30,707.72 149.12,708.00 150.95,707.46 152.77,706.64 154.60,707.66 156.42,706.68 157.79,705.46 159.16,703.98 159.77,702.59 160.38,700.47 160.99,699.46 162.81,700.28 164.64,701.31 165.18,698.80 165.73,698.76 166.28,697.08 166.82,694.70 167.37,693.82 168.74,692.66 170.11,691.45 171.93,690.82 173.76,690.74 175.28,690.07 176.80,689.31 178.32,689.27 179.69,689.33 181.06,688.26 182.43,688.46 183.80,687.90 185.01,686.98 186.23,686.26 187.45,684.84 188.66,683.67 189.88,682.19 191.09,681.08 192.92,680.54 194.74,681.09 196.57,680.30 198.39,679.94 199.91,680.39 201.44,680.53 202.96,680.24 204.48,680.64 206.00,680.14 207.52,679.70 209.34,678.69 211.17,678.10 212.99,678.75 214.82,678.59 216.64,678.53 218.47,678.08 220.29,677.93 222.12,677.92 223.94,678.68 225.77,678.10 227.59,677.46 229.42,678.38 231.24,679.30 233.07,677.99 234.89,679.14 236.41,678.44 237.93,678.45 239.45,678.52 239.65,676.97 239.84,674.81 240.04,673.67 240.23,672.19 240.43,670.73 240.63,668.39 240.82,667.80 241.02,666.33 241.21,664.93 241.41,661.61 241.60,660.66 241.80,658.12 241.99,657.49 242.19,655.84 243.10,653.81 244.01,652.53 245.38,653.50 246.75,654.04 247.21,654.88 247.66,656.49 248.12,656.84 248.58,659.15 248.88,661.08 249.18,662.76 249.49,665.07 249.79,665.52 250.10,666.69 250.40,669.50 250.60,667.59 250.81,666.47 251.01,665.14 251.21,663.57 251.42,662.43 251.62,660.86 251.82,657.99 252.02,657.19 252.23,656.23 252.45,653.91 252.68,652.94 252.91,650.88 253.14,649.12 253.37,648.42 253.59,646.58 253.82,644.41 254.05,643.16 254.74,640.96 255.42,639.86 256.10,639.22 256.79,637.46 257.34,635.51 257.88,634.73 258.43,633.21 258.98,632.18 259.53,630.40 260.00,628.56 260.47,627.01 260.95,625.70 261.42,624.20 261.90,622.85" fill="none" stroke="#000" stroke-width="2.9" stroke-linejoin="round" stroke-linecap="round" />
<polyline points="45.00,804.52 46.61,805.10 48.21,799.55 49.82,801.27 51.42,802.62 53.03,803.89 54.63,802.15 56.24,798.68 57.85,803.21 59.45,800.08 61.06,804.53 62.66,802.54 64.27,807.21 65.87,803.20 67.48,801.42 69.08,801.93 70.69,803.21 72.30,805.11 73.90,806.88 75.51,804.97 77.11,803.54 78.72,805.08 80.32,800.28 81.93,803.58 83.54,800.72 85.14,805.13 86.75,802.61 88.35,801.90 89.96,798.63 91.56,801.39 93.17,801.69 94.78,799.88 96.38,800.48 97.99,803.94 99.59,800.10 101.20,801.80 102.80,802.50 104.41,797.15 106.01,804.11 107.62,802.17 109.23,798.84 110.51,796.79 111.80,795.39 113.08,799.32 114.36,790.79 115.65,796.86 116.93,795.19 118.22,792.50 119.50,792.07 120.79,791.57 122.07,791.26 123.36,792.71 124.64,788.10 125.92,791.53 127.21,790.48 128.49,787.16 130.10,788.44 131.71,785.50 133.31,786.41 134.92,786.55 136.52,790.32 138.13,786.10 139.73,786.04 141.34,786.56 144.55,785.97 147.76,785.05 150.17,787.53 152.58,783.80 155.79,782.22 156.59,779.34 157.40,778.40 157.93,779.04 158.47,776.46 159.00,770.60 160.13,767.07 161.25,763.39 162.53,758.89 163.82,757.57 164.67,754.20 165.53,754.36 166.39,748.75 167.14,744.97 167.89,741.21 168.64,739.54 169.76,739.32 170.88,736.38 172.17,732.20 173.45,730.10 175.06,730.06 176.66,727.81 178.27,726.78 179.87,724.86 181.48,721.44 183.09,718.70 184.69,717.83 186.30,715.32 187.90,713.07 189.51,711.17 191.11,709.23 192.72,705.22 195.93,703.50 199.14,699.08 202.35,699.08 205.57,695.95 207.17,694.90 208.78,691.94 210.38,687.52 211.99,686.24 213.59,685.40 215.20,681.09 216.80,679.21 218.41,676.23 220.02,674.27 221.62,670.52 223.23,665.99 224.83,662.74 226.44,658.54 228.04,659.71 229.65,656.05 231.26,653.68 232.86,651.13 234.47,648.68 236.07,647.90 237.68,645.09 238.96,638.44 240.25,638.15 241.37,635.10 242.50,631.49 243.30,629.48 244.10,628.25 245.71,625.58 246.51,629.31 247.31,630.95 248.11,630.56 248.92,636.36 251.17,635.77 253.73,634.74 255.98,634.34 258.55,633.52 259.68,627.51 260.80,624.79 262.08,622.59 263.37,618.90" fill="none" stroke="#5aa57a" stroke-width="5.0" stroke-linejoin="round" stroke-linecap="round" opacity="0.95"/>
<polyline points="77.11,808.37 78.72,806.80 80.32,808.09 81.93,805.42 83.54,804.70 85.14,802.77 86.75,804.80 88.35,807.63 89.96,805.06 91.56,804.97 93.17,803.50 94.78,803.48 96.38,802.26 97.99,797.44 99.59,804.66 101.20,803.85 102.80,803.43 104.41,797.29 106.01,796.58 107.62,798.41 109.23,799.55 110.43,799.99 111.63,797.80 112.84,798.19 114.04,794.44 115.01,795.10 115.97,794.06 116.93,789.82 117.90,795.19 118.86,790.04 120.47,791.60 122.07,785.65 123.68,785.29 124.88,784.61 126.09,784.31 127.29,785.41 128.49,783.10 130.10,780.36 131.71,777.86 133.31,778.59 134.92,781.82 136.52,775.06 138.13,776.67 138.93,778.73 139.73,774.65 140.54,780.24 141.34,782.80 144.55,780.50 147.76,783.62 150.97,782.56 152.58,778.80 154.18,778.40 154.66,774.77 155.13,769.27 155.60,770.42 156.07,767.16 156.54,764.68 157.01,761.56 158.42,757.51 159.84,753.93 161.25,749.16 162.57,748.81 163.88,743.75 165.20,741.50 165.80,736.98 166.40,734.79 167.00,733.23 168.44,737.87 169.89,735.11 171.64,731.72 173.39,731.65 175.80,729.55 178.11,726.24 179.30,724.54 180.48,727.58 181.06,728.02 181.64,723.13 182.22,719.52 182.80,719.67 185.11,717.39 186.30,712.99 187.49,709.47 189.80,709.67 192.21,707.42 193.96,705.07 195.71,702.76 196.89,699.29 200.39,699.32 203.90,700.09 206.21,698.55 207.40,696.11 208.58,690.66 209.74,688.70 210.90,687.79 211.51,681.33 212.12,682.09 213.79,685.71 215.58,685.57 217.90,687.53 218.50,683.84 219.10,679.63 219.70,677.54 220.31,674.71 221.46,670.72 222.62,668.24 226.09,663.98 228.04,662.74 230.00,663.41 230.42,659.65 230.84,655.33 231.26,655.25 232.86,654.62 234.47,649.25 236.07,644.68 237.68,644.45 239.28,642.72 240.89,641.06 242.50,642.30 244.10,637.06 245.71,642.37 247.31,640.65 250.52,643.74 252.13,643.80 253.73,641.96 255.34,639.39 256.95,635.33 258.02,632.54 259.09,629.88 260.16,627.55 261.23,623.94 262.30,622.08 263.37,618.90" fill="none" stroke="#ec3232" stroke-width="4.0" stroke-linejoin="round" stroke-linecap="round" opacity="0.92"/>
</g>
<line x1="49.40" y1="596.20" x2="262.50" y2="596.20" stroke="#000" stroke-width="1.3" />
<line x1="49.40" y1="596.20" x2="49.40" y2="811.70" stroke="#000" stroke-width="1.3" />
<line x1="49.40" y1="811.70" x2="262.50" y2="811.70" stroke="#000" stroke-width="1.3" />
<line x1="262.50" y1="596.20" x2="262.50" y2="811.70" stroke="#3a8a5e" stroke-width="1.3" />
<line x1="61.30" y1="811.70" x2="61.30" y2="808.50" stroke="#000" stroke-width="1.0" />
<line x1="61.30" y1="596.20" x2="61.30" y2="599.40" stroke="#000" stroke-width="1.0" />
<line x1="74.70" y1="811.70" x2="74.70" y2="809.70" stroke="#000" stroke-width="1.0" />
<line x1="74.70" y1="596.20" x2="74.70" y2="598.20" stroke="#000" stroke-width="1.0" />
<line x1="88.10" y1="811.70" x2="88.10" y2="809.70" stroke="#000" stroke-width="1.0" />
<line x1="88.10" y1="596.20" x2="88.10" y2="598.20" stroke="#000" stroke-width="1.0" />
<line x1="101.50" y1="811.70" x2="101.50" y2="809.70" stroke="#000" stroke-width="1.0" />
<line x1="101.50" y1="596.20" x2="101.50" y2="598.20" stroke="#000" stroke-width="1.0" />
<line x1="114.90" y1="811.70" x2="114.90" y2="809.70" stroke="#000" stroke-width="1.0" />
<line x1="114.90" y1="596.20" x2="114.90" y2="598.20" stroke="#000" stroke-width="1.0" />
<line x1="128.30" y1="811.70" x2="128.30" y2="808.50" stroke="#000" stroke-width="1.0" />
<line x1="128.30" y1="596.20" x2="128.30" y2="599.40" stroke="#000" stroke-width="1.0" />
<line x1="141.70" y1="811.70" x2="141.70" y2="809.70" stroke="#000" stroke-width="1.0" />
<line x1="141.70" y1="596.20" x2="141.70" y2="598.20" stroke="#000" stroke-width="1.0" />
<line x1="155.10" y1="811.70" x2="155.10" y2="809.70" stroke="#000" stroke-width="1.0" />
<line x1="155.10" y1="596.20" x2="155.10" y2="598.20" stroke="#000" stroke-width="1.0" />
<line x1="168.50" y1="811.70" x2="168.50" y2="809.70" stroke="#000" stroke-width="1.0" />
<line x1="168.50" y1="596.20" x2="168.50" y2="598.20" stroke="#000" stroke-width="1.0" />
<line x1="181.90" y1="811.70" x2="181.90" y2="809.70" stroke="#000" stroke-width="1.0" />
<line x1="181.90" y1="596.20" x2="181.90" y2="598.20" stroke="#000" stroke-width="1.0" />
<line x1="195.30" y1="811.70" x2="195.30" y2="808.50" stroke="#000" stroke-width="1.0" />
<line x1="195.30" y1="596.20" x2="195.30" y2="599.40" stroke="#000" stroke-width="1.0" />
<line x1="208.70" y1="811.70" x2="208.70" y2="809.70" stroke="#000" stroke-width="1.0" />
<line x1="208.70" y1="596.20" x2="208.70" y2="598.20" stroke="#000" stroke-width="1.0" />
<line x1="222.10" y1="811.70" x2="222.10" y2="809.70" stroke="#000" stroke-width="1.0" />
<line x1="222.10" y1="596.20" x2="222.10" y2="598.20" stroke="#000" stroke-width="1.0" />
<line x1="235.50" y1="811.70" x2="235.50" y2="809.70" stroke="#000" stroke-width="1.0" />
<line x1="235.50" y1="596.20" x2="235.50" y2="598.20" stroke="#000" stroke-width="1.0" />
<line x1="248.90" y1="811.70" x2="248.90" y2="809.70" stroke="#000" stroke-width="1.0" />
<line x1="248.90" y1="596.20" x2="248.90" y2="598.20" stroke="#000" stroke-width="1.0" />
<text x="61.90" y="828.20" font-size="14" text-anchor="middle" fill="#000" >−1</text>
<text x="128.00" y="828.20" font-size="14" text-anchor="middle" fill="#000" >−0.5</text>
<text x="195.80" y="828.20" font-size="14" text-anchor="middle" fill="#000" >0</text>
<text x="260.20" y="828.20" font-size="14" text-anchor="middle" fill="#000" >0.5</text>
<line x1="49.40" y1="807.70" x2="52.60" y2="807.70" stroke="#000" stroke-width="1.0" />
<line x1="49.40" y1="792.66" x2="51.40" y2="792.66" stroke="#000" stroke-width="1.0" />
<line x1="49.40" y1="777.62" x2="51.40" y2="777.62" stroke="#000" stroke-width="1.0" />
<line x1="49.40" y1="762.58" x2="51.40" y2="762.58" stroke="#000" stroke-width="1.0" />
<line x1="49.40" y1="747.54" x2="52.60" y2="747.54" stroke="#000" stroke-width="1.0" />
<line x1="49.40" y1="732.50" x2="51.40" y2="732.50" stroke="#000" stroke-width="1.0" />
<line x1="49.40" y1="717.46" x2="51.40" y2="717.46" stroke="#000" stroke-width="1.0" />
<line x1="49.40" y1="702.42" x2="51.40" y2="702.42" stroke="#000" stroke-width="1.0" />
<line x1="49.40" y1="687.38" x2="52.60" y2="687.38" stroke="#000" stroke-width="1.0" />
<line x1="49.40" y1="672.34" x2="51.40" y2="672.34" stroke="#000" stroke-width="1.0" />
<line x1="49.40" y1="657.30" x2="51.40" y2="657.30" stroke="#000" stroke-width="1.0" />
<line x1="49.40" y1="642.26" x2="51.40" y2="642.26" stroke="#000" stroke-width="1.0" />
<line x1="49.40" y1="627.22" x2="52.60" y2="627.22" stroke="#000" stroke-width="1.0" />
<line x1="49.40" y1="612.18" x2="51.40" y2="612.18" stroke="#000" stroke-width="1.0" />
<text x="43.40" y="812.70" font-size="14" text-anchor="end" fill="#000" >0</text>
<text x="43.40" y="752.54" font-size="14" text-anchor="end" fill="#000" >0.2</text>
<text x="43.40" y="692.38" font-size="14" text-anchor="end" fill="#000" >0.4</text>
<text x="43.40" y="632.22" font-size="14" text-anchor="end" fill="#000" >0.6</text>
<line x1="262.50" y1="807.60" x2="259.50" y2="807.60" stroke="#3a8a5e" stroke-width="1.0" />
<line x1="262.50" y1="797.98" x2="260.70" y2="797.98" stroke="#3a8a5e" stroke-width="1.0" />
<line x1="262.50" y1="788.36" x2="260.70" y2="788.36" stroke="#3a8a5e" stroke-width="1.0" />
<line x1="262.50" y1="778.74" x2="260.70" y2="778.74" stroke="#3a8a5e" stroke-width="1.0" />
<line x1="262.50" y1="769.12" x2="259.50" y2="769.12" stroke="#3a8a5e" stroke-width="1.0" />
<line x1="262.50" y1="759.50" x2="260.70" y2="759.50" stroke="#3a8a5e" stroke-width="1.0" />
<line x1="262.50" y1="749.88" x2="260.70" y2="749.88" stroke="#3a8a5e" stroke-width="1.0" />
<line x1="262.50" y1="740.26" x2="260.70" y2="740.26" stroke="#3a8a5e" stroke-width="1.0" />
<line x1="262.50" y1="730.64" x2="259.50" y2="730.64" stroke="#3a8a5e" stroke-width="1.0" />
<line x1="262.50" y1="721.02" x2="260.70" y2="721.02" stroke="#3a8a5e" stroke-width="1.0" />
<line x1="262.50" y1="711.40" x2="260.70" y2="711.40" stroke="#3a8a5e" stroke-width="1.0" />
<line x1="262.50" y1="701.78" x2="260.70" y2="701.78" stroke="#3a8a5e" stroke-width="1.0" />
<line x1="262.50" y1="692.16" x2="259.50" y2="692.16" stroke="#3a8a5e" stroke-width="1.0" />
<line x1="262.50" y1="682.54" x2="260.70" y2="682.54" stroke="#3a8a5e" stroke-width="1.0" />
<line x1="262.50" y1="672.92" x2="260.70" y2="672.92" stroke="#3a8a5e" stroke-width="1.0" />
<line x1="262.50" y1="663.30" x2="260.70" y2="663.30" stroke="#3a8a5e" stroke-width="1.0" />
<line x1="262.50" y1="653.68" x2="259.50" y2="653.68" stroke="#3a8a5e" stroke-width="1.0" />
<line x1="262.50" y1="644.06" x2="260.70" y2="644.06" stroke="#3a8a5e" stroke-width="1.0" />
<line x1="262.50" y1="634.44" x2="260.70" y2="634.44" stroke="#3a8a5e" stroke-width="1.0" />
<line x1="262.50" y1="624.82" x2="260.70" y2="624.82" stroke="#3a8a5e" stroke-width="1.0" />
<line x1="262.50" y1="615.20" x2="259.50" y2="615.20" stroke="#3a8a5e" stroke-width="1.0" />
<line x1="262.50" y1="605.58" x2="260.70" y2="605.58" stroke="#3a8a5e" stroke-width="1.0" />
<text x="267.80" y="812.60" font-size="14" text-anchor="start" fill="#3a8a5e" >0</text>
<text x="267.80" y="774.12" font-size="14" text-anchor="start" fill="#3a8a5e" >0.2</text>
<text x="267.80" y="735.64" font-size="14" text-anchor="start" fill="#3a8a5e" >0.4</text>
<text x="267.80" y="697.16" font-size="14" text-anchor="start" fill="#3a8a5e" >0.6</text>
<text x="267.80" y="658.68" font-size="14" text-anchor="start" fill="#3a8a5e" >0.8</text>
<text x="267.80" y="620.20" font-size="14" text-anchor="start" fill="#3a8a5e" >1</text>
<line x1="318.30" y1="597.40" x2="318.30" y2="810.70" stroke="#e02828" stroke-width="1.3" />
<line x1="318.30" y1="810.70" x2="315.30" y2="810.70" stroke="#e02828" stroke-width="1.0" />
<line x1="318.30" y1="806.20" x2="316.70" y2="806.20" stroke="#e02828" stroke-width="1.0" />
<line x1="318.30" y1="801.70" x2="316.70" y2="801.70" stroke="#e02828" stroke-width="1.0" />
<line x1="318.30" y1="797.21" x2="316.70" y2="797.21" stroke="#e02828" stroke-width="1.0" />
<line x1="318.30" y1="792.71" x2="316.70" y2="792.71" stroke="#e02828" stroke-width="1.0" />
<line x1="318.30" y1="788.21" x2="315.30" y2="788.21" stroke="#e02828" stroke-width="1.0" />
<line x1="318.30" y1="783.71" x2="316.70" y2="783.71" stroke="#e02828" stroke-width="1.0" />
<line x1="318.30" y1="779.21" x2="316.70" y2="779.21" stroke="#e02828" stroke-width="1.0" />
<line x1="318.30" y1="774.72" x2="316.70" y2="774.72" stroke="#e02828" stroke-width="1.0" />
<line x1="318.30" y1="770.22" x2="316.70" y2="770.22" stroke="#e02828" stroke-width="1.0" />
<line x1="318.30" y1="765.72" x2="315.30" y2="765.72" stroke="#e02828" stroke-width="1.0" />
<line x1="318.30" y1="761.22" x2="316.70" y2="761.22" stroke="#e02828" stroke-width="1.0" />
<line x1="318.30" y1="756.72" x2="316.70" y2="756.72" stroke="#e02828" stroke-width="1.0" />
<line x1="318.30" y1="752.23" x2="316.70" y2="752.23" stroke="#e02828" stroke-width="1.0" />
<line x1="318.30" y1="747.73" x2="316.70" y2="747.73" stroke="#e02828" stroke-width="1.0" />
<line x1="318.30" y1="743.23" x2="315.30" y2="743.23" stroke="#e02828" stroke-width="1.0" />
<line x1="318.30" y1="738.73" x2="316.70" y2="738.73" stroke="#e02828" stroke-width="1.0" />
<line x1="318.30" y1="734.23" x2="316.70" y2="734.23" stroke="#e02828" stroke-width="1.0" />
<line x1="318.30" y1="729.74" x2="316.70" y2="729.74" stroke="#e02828" stroke-width="1.0" />
<line x1="318.30" y1="725.24" x2="316.70" y2="725.24" stroke="#e02828" stroke-width="1.0" />
<line x1="318.30" y1="720.74" x2="315.30" y2="720.74" stroke="#e02828" stroke-width="1.0" />
<line x1="318.30" y1="716.24" x2="316.70" y2="716.24" stroke="#e02828" stroke-width="1.0" />
<line x1="318.30" y1="711.74" x2="316.70" y2="711.74" stroke="#e02828" stroke-width="1.0" />
<line x1="318.30" y1="707.25" x2="316.70" y2="707.25" stroke="#e02828" stroke-width="1.0" />
<line x1="318.30" y1="702.75" x2="316.70" y2="702.75" stroke="#e02828" stroke-width="1.0" />
<line x1="318.30" y1="698.25" x2="315.30" y2="698.25" stroke="#e02828" stroke-width="1.0" />
<line x1="318.30" y1="693.75" x2="316.70" y2="693.75" stroke="#e02828" stroke-width="1.0" />
<line x1="318.30" y1="689.25" x2="316.70" y2="689.25" stroke="#e02828" stroke-width="1.0" />
<line x1="318.30" y1="684.76" x2="316.70" y2="684.76" stroke="#e02828" stroke-width="1.0" />
<line x1="318.30" y1="680.26" x2="316.70" y2="680.26" stroke="#e02828" stroke-width="1.0" />
<line x1="318.30" y1="675.76" x2="315.30" y2="675.76" stroke="#e02828" stroke-width="1.0" />
<line x1="318.30" y1="671.26" x2="316.70" y2="671.26" stroke="#e02828" stroke-width="1.0" />
<line x1="318.30" y1="666.76" x2="316.70" y2="666.76" stroke="#e02828" stroke-width="1.0" />
<line x1="318.30" y1="662.27" x2="316.70" y2="662.27" stroke="#e02828" stroke-width="1.0" />
<line x1="318.30" y1="657.77" x2="316.70" y2="657.77" stroke="#e02828" stroke-width="1.0" />
<line x1="318.30" y1="653.27" x2="315.30" y2="653.27" stroke="#e02828" stroke-width="1.0" />
<line x1="318.30" y1="648.77" x2="316.70" y2="648.77" stroke="#e02828" stroke-width="1.0" />
<line x1="318.30" y1="644.27" x2="316.70" y2="644.27" stroke="#e02828" stroke-width="1.0" />
<line x1="318.30" y1="639.78" x2="316.70" y2="639.78" stroke="#e02828" stroke-width="1.0" />
<line x1="318.30" y1="635.28" x2="316.70" y2="635.28" stroke="#e02828" stroke-width="1.0" />
<line x1="318.30" y1="630.78" x2="315.30" y2="630.78" stroke="#e02828" stroke-width="1.0" />
<line x1="318.30" y1="626.28" x2="316.70" y2="626.28" stroke="#e02828" stroke-width="1.0" />
<line x1="318.30" y1="621.78" x2="316.70" y2="621.78" stroke="#e02828" stroke-width="1.0" />
<line x1="318.30" y1="617.29" x2="316.70" y2="617.29" stroke="#e02828" stroke-width="1.0" />
<line x1="318.30" y1="612.79" x2="316.70" y2="612.79" stroke="#e02828" stroke-width="1.0" />
<line x1="318.30" y1="608.29" x2="315.30" y2="608.29" stroke="#e02828" stroke-width="1.0" />
<line x1="318.30" y1="603.79" x2="316.70" y2="603.79" stroke="#e02828" stroke-width="1.0" />
<line x1="318.30" y1="599.29" x2="316.70" y2="599.29" stroke="#e02828" stroke-width="1.0" />
<text x="325.50" y="815.70" font-size="14" text-anchor="start" fill="#e02828" >0</text>
<text x="325.50" y="793.21" font-size="14" text-anchor="start" fill="#e02828" >0.5</text>
<text x="325.50" y="770.72" font-size="14" text-anchor="start" fill="#e02828" >1</text>
<text x="325.50" y="748.23" font-size="14" text-anchor="start" fill="#e02828" >1.5</text>
<text x="325.50" y="725.74" font-size="14" text-anchor="start" fill="#e02828" >2</text>
<text x="325.50" y="703.25" font-size="14" text-anchor="start" fill="#e02828" >2.5</text>
<text x="325.50" y="680.76" font-size="14" text-anchor="start" fill="#e02828" >3</text>
<text x="325.50" y="658.27" font-size="14" text-anchor="start" fill="#e02828" >3.5</text>
<text x="325.50" y="635.78" font-size="14" text-anchor="start" fill="#e02828" >4</text>
<text x="325.50" y="613.29" font-size="14" text-anchor="start" fill="#e02828" >4.5</text>
<text x="318.1" y="593.1" font-size="14.3" fill="#e02828">×10<tspan font-size="10.5" dy="-6.2">−3</tspan></text>
<text transform="translate(14.3,705.9) rotate(-90)" font-size="14.8" text-anchor="middle" fill="#111">Conductance (<tspan font-style="italic">e</tspan><tspan font-size="10.5" dy="-5.5">2</tspan><tspan dy="5.5">/</tspan><tspan font-style="italic">h</tspan>)</text>
<text transform="translate(307.3,704.8) rotate(-90)" font-size="14.8" text-anchor="middle" fill="#3a8a5e">Neutral transmission</text>
<g transform="translate(368.9,701.8) rotate(-90) scale(1.05)"><text font-size="14.6" text-anchor="middle" fill="#e02828"><tspan font-style="italic">T</tspan><tspan font-size="10.5" dx="0.3" dy="-5.6">2</tspan><tspan font-size="10.5" dx="-5.6" dy="9.4">1</tspan><tspan dx="3.2" dy="-3.8">– </tspan><tspan font-style="italic">T</tspan><tspan font-size="10.5" dx="0.3" dy="-5.6">2</tspan><tspan font-size="10.5" dx="-5.6" dy="9.4">0</tspan><tspan dx="3.2" dy="-3.8">(K</tspan><tspan font-size="10.5" dy="-5.6">2</tspan><tspan dy="5.6">)</tspan></text></g>
<text x="129.6" y="848.6" font-size="14.2" fill="#000"><tspan font-style="italic">V</tspan><tspan font-size="10.2" dx="-1.0" dy="4.4">QPC</tspan><tspan dx="-1.0" dy="-4.4"> (V)</tspan></text>
<text x="73.0" y="637.4" font-size="15.5" fill="#111" font-family="Liberation Serif, serif" font-style="italic">ν</text>
<text y="637.4" font-size="15" fill="#111" text-anchor="middle"><tspan x="87.3">=</tspan><tspan x="99.4">3</tspan><tspan x="108.4">/</tspan><tspan x="118.9">5</tspan></text>
<text x="390.2" y="287.2" font-size="19.5" font-weight="bold" fill="#000">d</text>
<path d="M437.40,492.20 C442.83,492.17 460.40,492.10 470.00,492.00 C479.60,491.90 489.83,491.77 495.00,491.60 C500.17,491.43 499.60,491.35 501.00,491.00 C502.40,490.65 502.73,490.50 503.40,489.50 C504.07,488.50 504.53,486.92 505.00,485.00 C505.47,483.08 505.70,482.17 506.20,478.00 C506.70,473.83 507.48,466.25 508.00,460.00 C508.52,453.75 508.92,446.67 509.30,440.50 C509.68,434.33 509.97,428.08 510.30,423.00 C510.63,417.92 510.95,413.17 511.30,410.00 C511.65,406.83 511.90,405.47 512.40,404.00 C512.90,402.53 513.45,401.90 514.30,401.20 C515.15,400.50 516.33,400.22 517.50,399.80 C518.67,399.38 519.22,399.47 521.30,398.70 C523.38,397.93 527.08,397.10 530.00,395.20 C532.92,393.30 535.87,390.65 538.80,387.30 C541.73,383.95 544.53,380.05 547.60,375.10 C550.67,370.15 554.28,362.87 557.20,357.60 C560.12,352.33 562.62,347.60 565.10,343.50 C567.58,339.40 569.18,336.50 572.10,333.00 C575.02,329.50 579.10,325.12 582.60,322.50 C586.10,319.88 589.60,318.52 593.10,317.30 C596.60,316.08 599.12,315.62 603.60,315.20 C608.08,314.78 608.27,314.88 620.00,314.80 C631.73,314.72 665.00,314.72 674.00,314.70" fill="none" stroke="#000" stroke-width="3.6" stroke-linejoin="round" stroke-linecap="round" />
<path d="M437.40,492.30 C444.50,492.28 469.00,492.45 480.00,492.20 C491.00,491.95 496.77,492.00 503.40,490.80 C510.03,489.60 515.12,488.32 519.80,485.00 C524.48,481.68 527.60,477.53 531.50,470.90 C535.40,464.27 539.68,454.95 543.20,445.20 C546.72,435.45 549.87,422.17 552.60,412.40 C555.33,402.63 557.27,394.80 559.60,386.60 C561.93,378.40 563.87,370.72 566.60,363.20 C569.33,355.68 572.48,347.73 576.00,341.50 C579.52,335.27 583.80,329.78 587.70,325.80 C591.60,321.82 594.72,319.35 599.40,317.60 C604.08,315.85 609.03,315.77 615.80,315.30 C622.57,314.83 630.30,314.90 640.00,314.80 C649.70,314.70 668.33,314.72 674.00,314.70" fill="none" stroke="#0c0cdc" stroke-width="3.6" stroke-linejoin="round" stroke-linecap="round" />
<rect x="437.4" y="314.6" width="236.80000000000007" height="177.89999999999998" fill="none" stroke="#000" stroke-width="1.2"/>
<line x1="437.40" y1="492.50" x2="440.40" y2="492.50" stroke="#000" stroke-width="1.0" />
<text x="432.20" y="497.50" font-size="14" text-anchor="end" fill="#000" >0.0</text>
<line x1="437.40" y1="456.90" x2="440.40" y2="456.90" stroke="#000" stroke-width="1.0" />
<text x="432.20" y="461.90" font-size="14" text-anchor="end" fill="#000" >0.2</text>
<line x1="437.40" y1="421.30" x2="440.40" y2="421.30" stroke="#000" stroke-width="1.0" />
<text x="432.20" y="426.30" font-size="14" text-anchor="end" fill="#000" >0.4</text>
<line x1="437.40" y1="385.70" x2="440.40" y2="385.70" stroke="#000" stroke-width="1.0" />
<text x="432.20" y="390.70" font-size="14" text-anchor="end" fill="#000" >0.6</text>
<line x1="437.40" y1="350.10" x2="440.40" y2="350.10" stroke="#000" stroke-width="1.0" />
<text x="432.20" y="355.10" font-size="14" text-anchor="end" fill="#000" >0.8</text>
<line x1="437.40" y1="314.50" x2="440.40" y2="314.50" stroke="#000" stroke-width="1.0" />
<text x="432.20" y="319.50" font-size="14" text-anchor="end" fill="#000" >1.0</text>
<line x1="436.60" y1="492.50" x2="436.60" y2="489.50" stroke="#000" stroke-width="1.0" />
<text x="438.40" y="508.60" font-size="14" text-anchor="middle" fill="#000" >−0.5</text>
<line x1="555.00" y1="492.50" x2="555.00" y2="489.50" stroke="#000" stroke-width="1.0" />
<text x="555.00" y="508.60" font-size="14" text-anchor="middle" fill="#000" >0.0</text>
<line x1="673.40" y1="492.50" x2="673.40" y2="489.50" stroke="#000" stroke-width="1.0" />
<text x="673.40" y="508.60" font-size="14" text-anchor="middle" fill="#000" >0.5</text>
<text transform="translate(404.2,403.7) rotate(-90)" font-size="14.7" text-anchor="middle" fill="#000">Transmission</text>
<text x="525.4" y="528.9" font-size="14.4" fill="#000"><tspan font-style="italic">V</tspan><tspan font-size="10.4" dx="-1.0" dy="4.4">QPC</tspan><tspan dx="-1.6" dy="-4.4"> (a.u)</tspan></text>
<line x1="457.00" y1="335.90" x2="474.70" y2="335.90" stroke="#000" stroke-width="3.6" />
<text x="480.4" y="341.5" font-size="14" font-style="italic" fill="#111">t</text>
<line x1="457.00" y1="364.40" x2="474.70" y2="364.40" stroke="#0c0cdc" stroke-width="3.6" />
<text x="480.4" y="367.6" font-size="14" fill="#0c0cdc"><tspan font-style="italic">t</tspan><tspan font-size="10" dy="3.5">n</tspan></text>
<text x="389.6" y="585.0" font-size="19.5" font-weight="bold" fill="#000">f</text>
<line x1="558.40" y1="604.50" x2="558.40" y2="800.50" stroke="#f2b040" stroke-width="2.2" stroke-dasharray="4.5 4.6"/>
<g fill="#3c3cf0"><circle cx="456.6" cy="794.3" r="2.4"/><circle cx="441.8" cy="789.5" r="2.4"/><circle cx="450.6" cy="798.8" r="2.4"/><circle cx="459.6" cy="793.6" r="2.4"/><circle cx="441.3" cy="796.9" r="2.4"/><circle cx="450.0" cy="794.1" r="2.4"/><circle cx="455.9" cy="794.9" r="2.4"/><circle cx="451.1" cy="798.8" r="2.4"/><circle cx="449.1" cy="791.5" r="2.4"/><circle cx="458.9" cy="788.8" r="2.4"/><circle cx="447.2" cy="797.6" r="2.4"/><circle cx="442.4" cy="797.7" r="2.4"/><circle cx="455.6" cy="792.1" r="2.4"/><circle cx="447.0" cy="796.9" r="2.4"/><circle cx="460.1" cy="788.0" r="2.4"/><circle cx="451.0" cy="793.7" r="2.4"/><circle cx="451.5" cy="790.6" r="2.4"/><circle cx="444.2" cy="794.2" r="2.4"/><circle cx="458.0" cy="787.0" r="2.4"/><circle cx="445.8" cy="797.5" r="2.4"/><circle cx="457.6" cy="795.3" r="2.4"/><circle cx="441.5" cy="796.1" r="2.4"/><circle cx="461.6" cy="800.0" r="2.4"/><circle cx="455.7" cy="786.7" r="2.4"/><circle cx="458.7" cy="789.1" r="2.4"/><circle cx="454.6" cy="799.3" r="2.4"/><circle cx="456.0" cy="787.9" r="2.4"/><circle cx="447.1" cy="798.9" r="2.4"/><circle cx="444.1" cy="794.5" r="2.4"/><circle cx="449.7" cy="788.3" r="2.4"/><circle cx="454.1" cy="786.6" r="2.4"/><circle cx="443.3" cy="791.3" r="2.4"/><circle cx="442.5" cy="786.8" r="2.4"/><circle cx="453.1" cy="796.4" r="2.4"/><circle cx="459.4" cy="787.9" r="2.4"/><circle cx="530.3" cy="786.8" r="2.4"/><circle cx="533.0" cy="788.6" r="2.4"/><circle cx="554.1" cy="784.1" r="2.4"/><circle cx="542.8" cy="786.1" r="2.4"/><circle cx="517.1" cy="788.1" r="2.4"/><circle cx="552.8" cy="783.5" r="2.4"/><circle cx="536.1" cy="786.0" r="2.4"/><circle cx="535.9" cy="786.0" r="2.4"/><circle cx="521.9" cy="788.5" r="2.4"/><circle cx="516.3" cy="787.7" r="2.4"/><circle cx="521.0" cy="787.2" r="2.4"/><circle cx="518.4" cy="790.3" r="2.4"/><circle cx="543.5" cy="785.4" r="2.4"/><circle cx="541.4" cy="785.6" r="2.4"/><circle cx="514.3" cy="790.6" r="2.4"/><circle cx="521.2" cy="789.7" r="2.4"/><circle cx="551.2" cy="783.7" r="2.4"/><circle cx="547.4" cy="785.4" r="2.4"/><circle cx="511.4" cy="789.8" r="2.4"/><circle cx="517.1" cy="788.7" r="2.4"/><circle cx="554.7" cy="783.9" r="2.4"/><circle cx="515.5" cy="788.5" r="2.4"/><circle cx="555.7" cy="783.0" r="2.4"/><circle cx="516.6" cy="787.2" r="2.4"/><circle cx="539.4" cy="785.7" r="2.4"/><circle cx="525.7" cy="788.7" r="2.4"/><circle cx="538.8" cy="785.6" r="2.4"/><circle cx="516.4" cy="790.1" r="2.4"/><circle cx="549.1" cy="783.7" r="2.4"/><circle cx="530.4" cy="785.7" r="2.4"/><circle cx="550.0" cy="783.3" r="2.4"/><circle cx="536.9" cy="786.4" r="2.4"/><circle cx="544.8" cy="785.1" r="2.4"/><circle cx="511.6" cy="790.1" r="2.4"/><circle cx="519.5" cy="791.2" r="2.4"/><circle cx="447.4" cy="784.0" r="2.4"/><circle cx="449.3" cy="783.0" r="2.4"/><circle cx="455.0" cy="784.0" r="2.4"/><circle cx="456.9" cy="784.9" r="2.4"/><circle cx="463.5" cy="780.2" r="2.4"/><circle cx="471.1" cy="781.1" r="2.4"/><circle cx="470.2" cy="783.0" r="2.4"/><circle cx="477.7" cy="778.7" r="2.4"/><circle cx="488.2" cy="774.5" r="2.4"/><circle cx="489.1" cy="775.4" r="2.4"/><circle cx="510.0" cy="773.5" r="2.4"/><circle cx="511.9" cy="777.3" r="2.4"/><circle cx="520.4" cy="782.1" r="2.4"/><circle cx="519.5" cy="783.4" r="2.4"/><circle cx="551.7" cy="769.7" r="2.4"/><circle cx="558.4" cy="768.8" r="2.4"/><circle cx="479.6" cy="795.4" r="2.4"/><circle cx="481.5" cy="797.3" r="2.4"/><circle cx="492.9" cy="793.5" r="2.4"/><circle cx="491.0" cy="795.4" r="2.4"/><circle cx="513.8" cy="797.3" r="2.4"/><circle cx="515.7" cy="796.3" r="2.4"/><circle cx="525.2" cy="786.8" r="2.4"/><circle cx="530.9" cy="787.8" r="2.4"/><circle cx="536.6" cy="786.3" r="2.4"/><circle cx="542.3" cy="785.5" r="2.4"/><circle cx="548.0" cy="784.9" r="2.4"/><circle cx="549.9" cy="784.0" r="2.4"/><circle cx="553.6" cy="783.0" r="2.4"/><circle cx="559.1" cy="783.7" r="2.4"/><circle cx="558.5" cy="790.2" r="2.4"/><circle cx="557.6" cy="777.6" r="2.4"/><circle cx="559.1" cy="782.2" r="2.4"/><circle cx="558.0" cy="780.4" r="2.4"/><circle cx="559.3" cy="783.7" r="2.4"/><circle cx="559.0" cy="791.0" r="2.4"/><circle cx="556.8" cy="791.1" r="2.4"/><circle cx="559.7" cy="786.8" r="2.4"/><circle cx="557.8" cy="776.4" r="2.4"/><circle cx="559.0" cy="791.6" r="2.4"/><circle cx="559.3" cy="780.5" r="2.4"/><circle cx="556.6" cy="779.8" r="2.4"/><circle cx="556.0" cy="782.9" r="2.4"/><circle cx="590.8" cy="663.3" r="2.4"/><circle cx="583.2" cy="720.7" r="2.4"/><circle cx="594.5" cy="630.6" r="2.4"/><circle cx="582.6" cy="703.8" r="2.4"/><circle cx="565.1" cy="773.4" r="2.4"/><circle cx="586.0" cy="644.7" r="2.4"/><circle cx="563.5" cy="776.1" r="2.4"/><circle cx="574.9" cy="746.6" r="2.4"/><circle cx="564.4" cy="775.1" r="2.4"/><circle cx="570.4" cy="744.7" r="2.4"/><circle cx="564.4" cy="776.5" r="2.4"/><circle cx="564.0" cy="778.6" r="2.4"/><circle cx="582.7" cy="705.4" r="2.4"/><circle cx="578.0" cy="721.9" r="2.4"/><circle cx="574.9" cy="735.7" r="2.4"/><circle cx="559.6" cy="767.7" r="2.4"/><circle cx="584.2" cy="691.4" r="2.4"/><circle cx="592.5" cy="651.3" r="2.4"/><circle cx="584.6" cy="700.6" r="2.4"/><circle cx="579.7" cy="708.8" r="2.4"/><circle cx="585.5" cy="687.3" r="2.4"/><circle cx="591.9" cy="671.6" r="2.4"/><circle cx="579.8" cy="714.6" r="2.4"/><circle cx="592.1" cy="656.0" r="2.4"/><circle cx="576.5" cy="736.0" r="2.4"/><circle cx="565.8" cy="770.8" r="2.4"/><circle cx="569.6" cy="735.8" r="2.4"/><circle cx="569.3" cy="764.3" r="2.4"/><circle cx="565.9" cy="771.3" r="2.4"/><circle cx="578.4" cy="717.8" r="2.4"/><circle cx="562.5" cy="774.9" r="2.4"/><circle cx="590.9" cy="675.5" r="2.4"/><circle cx="574.4" cy="740.0" r="2.4"/><circle cx="580.4" cy="726.3" r="2.4"/><circle cx="577.0" cy="735.6" r="2.4"/><circle cx="584.4" cy="667.5" r="2.4"/><circle cx="585.4" cy="682.8" r="2.4"/><circle cx="587.6" cy="666.3" r="2.4"/><circle cx="590.2" cy="657.5" r="2.4"/><circle cx="592.3" cy="682.6" r="2.4"/><circle cx="587.7" cy="675.4" r="2.4"/><circle cx="574.2" cy="742.8" r="2.4"/><circle cx="564.6" cy="764.2" r="2.4"/><circle cx="564.9" cy="774.2" r="2.4"/><circle cx="590.3" cy="679.4" r="2.4"/><circle cx="578.5" cy="740.1" r="2.4"/><circle cx="586.7" cy="697.8" r="2.4"/><circle cx="563.1" cy="780.2" r="2.4"/><circle cx="577.6" cy="728.9" r="2.4"/><circle cx="596.4" cy="650.8" r="2.4"/><circle cx="570.3" cy="748.5" r="2.4"/><circle cx="578.7" cy="717.8" r="2.4"/><circle cx="563.2" cy="782.5" r="2.4"/><circle cx="587.8" cy="693.6" r="2.4"/><circle cx="561.1" cy="769.6" r="2.4"/><circle cx="586.0" cy="702.0" r="2.4"/><circle cx="585.2" cy="715.1" r="2.4"/><circle cx="593.6" cy="638.5" r="2.4"/><circle cx="573.8" cy="735.2" r="2.4"/><circle cx="590.0" cy="642.2" r="2.4"/><circle cx="581.6" cy="715.8" r="2.4"/><circle cx="594.1" cy="665.1" r="2.4"/><circle cx="591.9" cy="633.7" r="2.4"/><circle cx="590.3" cy="691.8" r="2.4"/><circle cx="583.3" cy="719.2" r="2.4"/><circle cx="563.8" cy="776.3" r="2.4"/><circle cx="585.2" cy="694.8" r="2.4"/><circle cx="584.4" cy="709.5" r="2.4"/><circle cx="568.9" cy="750.9" r="2.4"/><circle cx="574.6" cy="741.4" r="2.4"/><circle cx="580.8" cy="729.0" r="2.4"/><circle cx="590.5" cy="667.7" r="2.4"/><circle cx="575.0" cy="745.9" r="2.4"/><circle cx="596.6" cy="631.7" r="2.4"/><circle cx="581.6" cy="688.4" r="2.4"/><circle cx="582.7" cy="722.1" r="2.4"/><circle cx="586.9" cy="708.3" r="2.4"/><circle cx="562.9" cy="778.6" r="2.4"/><circle cx="590.7" cy="672.9" r="2.4"/><circle cx="594.7" cy="644.5" r="2.4"/><circle cx="580.7" cy="734.1" r="2.4"/><circle cx="591.2" cy="678.3" r="2.4"/><circle cx="588.1" cy="660.0" r="2.4"/><circle cx="581.6" cy="725.9" r="2.4"/><circle cx="585.9" cy="693.2" r="2.4"/><circle cx="567.6" cy="755.7" r="2.4"/><circle cx="563.3" cy="780.3" r="2.4"/><circle cx="572.5" cy="735.9" r="2.4"/><circle cx="591.4" cy="675.1" r="2.4"/><circle cx="584.5" cy="722.4" r="2.4"/><circle cx="551.0" cy="770.0" r="2.4"/><circle cx="551.4" cy="769.8" r="2.4"/><circle cx="565.4" cy="771.5" r="2.4"/><circle cx="567.3" cy="771.0" r="2.4"/><circle cx="560.7" cy="746.4" r="2.4"/><circle cx="563.6" cy="743.0" r="2.4"/><circle cx="593.3" cy="634.0" r="2.4"/><circle cx="594.5" cy="637.5" r="2.4"/><circle cx="591.6" cy="655.0" r="2.4"/><circle cx="592.2" cy="658.6" r="2.4"/><circle cx="591.0" cy="663.0" r="2.4"/><circle cx="588.7" cy="670.3" r="2.4"/><circle cx="586.3" cy="673.8" r="2.4"/><circle cx="585.0" cy="682.0" r="2.4"/><circle cx="584.0" cy="687.8" r="2.4"/><circle cx="601.5" cy="653.9" r="2.4"/><circle cx="607.4" cy="653.9" r="2.4"/><circle cx="609.7" cy="649.2" r="2.4"/><circle cx="600.4" cy="664.4" r="2.4"/><circle cx="601.5" cy="671.4" r="2.4"/><circle cx="596.9" cy="679.6" r="2.4"/><circle cx="593.3" cy="684.3" r="2.4"/><circle cx="592.2" cy="693.7" r="2.4"/><circle cx="619.2" cy="610.6" r="2.4"/><circle cx="619.2" cy="611.5" r="2.4"/><circle cx="621.7" cy="610.8" r="2.4"/><circle cx="621.5" cy="613.2" r="2.4"/><circle cx="624.0" cy="611.8" r="2.4"/><circle cx="625.8" cy="613.8" r="2.4"/><circle cx="625.8" cy="614.3" r="2.4"/><circle cx="622.3" cy="606.4" r="2.4"/><circle cx="623.3" cy="606.8" r="2.4"/><circle cx="624.8" cy="606.9" r="2.4"/><circle cx="626.6" cy="606.8" r="2.4"/><circle cx="618.2" cy="616.7" r="2.4"/><circle cx="618.6" cy="618.7" r="2.4"/><circle cx="619.2" cy="620.2" r="2.4"/><circle cx="618.9" cy="623.0" r="2.4"/><circle cx="619.6" cy="624.2" r="2.4"/><circle cx="611.9" cy="629.1" r="2.4"/><circle cx="612.7" cy="632.0" r="2.4"/><circle cx="613.1" cy="632.9" r="2.4"/><circle cx="613.7" cy="635.2" r="2.4"/><circle cx="613.9" cy="637.3" r="2.4"/><circle cx="614.0" cy="639.0" r="2.4"/><circle cx="609.2" cy="640.9" r="2.4"/><circle cx="598.7" cy="625.7" r="2.4"/><circle cx="595.2" cy="635.0" r="2.4"/><circle cx="594.0" cy="632.7" r="2.4"/><circle cx="634.9" cy="611.7" r="2.4"/><circle cx="633.7" cy="618.7" r="2.4"/><circle cx="632.6" cy="619.9" r="2.4"/><circle cx="631.4" cy="626.9" r="2.4"/><circle cx="602.2" cy="653.7" r="2.4"/><circle cx="608.0" cy="649.1" r="2.4"/><circle cx="608.6" cy="654.3" r="2.4"/><circle cx="592.8" cy="654.9" r="2.4"/><circle cx="591.7" cy="658.4" r="2.4"/><circle cx="610.9" cy="638.5" r="2.4"/><circle cx="615.0" cy="629.2" r="2.4"/><circle cx="671.6" cy="616.4" r="2.4"/><circle cx="668.1" cy="623.4" r="2.4"/><circle cx="672.7" cy="607.0" r="2.4"/><circle cx="661.6" cy="629.8" r="2.4"/><circle cx="665.7" cy="622.2" r="2.4"/></g>
<g fill="#2e8a55"><circle cx="461.4" cy="797.2" r="2.4"/><circle cx="467.1" cy="799.4" r="2.4"/><circle cx="465.3" cy="799.1" r="2.4"/><circle cx="441.5" cy="794.1" r="2.4"/><circle cx="472.1" cy="796.1" r="2.4"/><circle cx="470.7" cy="790.2" r="2.4"/><circle cx="456.2" cy="791.7" r="2.4"/><circle cx="458.7" cy="795.3" r="2.4"/><circle cx="440.9" cy="791.4" r="2.4"/><circle cx="449.9" cy="799.1" r="2.4"/><circle cx="466.2" cy="790.8" r="2.4"/><circle cx="467.2" cy="790.5" r="2.4"/><circle cx="461.2" cy="790.4" r="2.4"/><circle cx="440.6" cy="798.6" r="2.4"/><circle cx="447.5" cy="791.4" r="2.4"/><circle cx="473.4" cy="798.6" r="2.4"/><circle cx="450.2" cy="799.6" r="2.4"/><circle cx="458.6" cy="796.5" r="2.4"/><circle cx="447.4" cy="799.4" r="2.4"/><circle cx="463.6" cy="799.6" r="2.4"/><circle cx="470.4" cy="792.3" r="2.4"/><circle cx="452.6" cy="790.8" r="2.4"/><circle cx="445.4" cy="789.7" r="2.4"/><circle cx="450.6" cy="795.6" r="2.4"/><circle cx="440.6" cy="796.5" r="2.4"/><circle cx="451.8" cy="792.4" r="2.4"/><circle cx="467.9" cy="794.3" r="2.4"/><circle cx="451.1" cy="794.3" r="2.4"/><circle cx="464.1" cy="789.6" r="2.4"/><circle cx="473.2" cy="789.3" r="2.4"/><circle cx="465.6" cy="798.3" r="2.4"/><circle cx="441.1" cy="797.7" r="2.4"/><circle cx="452.8" cy="795.4" r="2.4"/><circle cx="440.8" cy="789.5" r="2.4"/><circle cx="446.6" cy="799.5" r="2.4"/><circle cx="447.1" cy="797.3" r="2.4"/><circle cx="471.6" cy="799.4" r="2.4"/><circle cx="452.0" cy="792.9" r="2.4"/><circle cx="458.1" cy="797.5" r="2.4"/><circle cx="444.1" cy="797.2" r="2.4"/><circle cx="467.2" cy="798.5" r="2.4"/><circle cx="441.7" cy="799.4" r="2.4"/><circle cx="443.6" cy="792.7" r="2.4"/><circle cx="461.0" cy="799.1" r="2.4"/><circle cx="451.9" cy="799.2" r="2.4"/><circle cx="458.8" cy="792.4" r="2.4"/><circle cx="451.1" cy="791.0" r="2.4"/><circle cx="443.1" cy="790.6" r="2.4"/><circle cx="463.6" cy="800.0" r="2.4"/><circle cx="445.9" cy="789.5" r="2.4"/><circle cx="473.6" cy="794.9" r="2.4"/><circle cx="454.1" cy="791.6" r="2.4"/><circle cx="460.4" cy="798.1" r="2.4"/><circle cx="455.8" cy="793.6" r="2.4"/><circle cx="442.4" cy="799.1" r="2.4"/><circle cx="441.6" cy="794.4" r="2.4"/><circle cx="468.6" cy="790.4" r="2.4"/><circle cx="465.0" cy="799.4" r="2.4"/><circle cx="461.6" cy="797.7" r="2.4"/><circle cx="444.1" cy="793.8" r="2.4"/><circle cx="445.5" cy="798.3" r="2.4"/><circle cx="450.4" cy="794.0" r="2.4"/><circle cx="474.0" cy="798.4" r="2.4"/><circle cx="473.2" cy="794.0" r="2.4"/><circle cx="456.9" cy="797.0" r="2.4"/><circle cx="456.5" cy="792.2" r="2.4"/><circle cx="454.0" cy="790.6" r="2.4"/><circle cx="453.1" cy="799.9" r="2.4"/><circle cx="472.7" cy="795.9" r="2.4"/><circle cx="457.2" cy="792.7" r="2.4"/><circle cx="481.0" cy="794.2" r="2.4"/><circle cx="542.5" cy="791.0" r="2.4"/><circle cx="502.5" cy="793.9" r="2.4"/><circle cx="528.9" cy="787.9" r="2.4"/><circle cx="526.5" cy="791.0" r="2.4"/><circle cx="529.7" cy="788.9" r="2.4"/><circle cx="496.2" cy="791.0" r="2.4"/><circle cx="528.6" cy="790.8" r="2.4"/><circle cx="497.2" cy="795.9" r="2.4"/><circle cx="519.9" cy="790.9" r="2.4"/><circle cx="474.9" cy="793.8" r="2.4"/><circle cx="527.1" cy="790.4" r="2.4"/><circle cx="510.6" cy="793.6" r="2.4"/><circle cx="537.0" cy="787.2" r="2.4"/><circle cx="501.5" cy="791.8" r="2.4"/><circle cx="539.4" cy="786.8" r="2.4"/><circle cx="501.7" cy="795.2" r="2.4"/><circle cx="528.4" cy="787.9" r="2.4"/><circle cx="551.1" cy="788.3" r="2.4"/><circle cx="515.8" cy="791.6" r="2.4"/><circle cx="487.1" cy="796.3" r="2.4"/><circle cx="511.7" cy="789.3" r="2.4"/><circle cx="528.6" cy="790.1" r="2.4"/><circle cx="487.6" cy="791.7" r="2.4"/><circle cx="535.6" cy="787.4" r="2.4"/><circle cx="507.2" cy="791.8" r="2.4"/><circle cx="523.3" cy="791.6" r="2.4"/><circle cx="530.9" cy="788.0" r="2.4"/><circle cx="476.2" cy="795.8" r="2.4"/><circle cx="525.4" cy="792.5" r="2.4"/><circle cx="491.3" cy="793.2" r="2.4"/><circle cx="477.3" cy="792.8" r="2.4"/><circle cx="511.3" cy="792.7" r="2.4"/><circle cx="484.5" cy="795.0" r="2.4"/><circle cx="499.1" cy="794.0" r="2.4"/><circle cx="476.8" cy="795.8" r="2.4"/><circle cx="510.8" cy="791.0" r="2.4"/><circle cx="520.6" cy="793.1" r="2.4"/><circle cx="492.8" cy="794.0" r="2.4"/><circle cx="506.0" cy="793.0" r="2.4"/><circle cx="496.0" cy="793.1" r="2.4"/><circle cx="539.7" cy="789.2" r="2.4"/><circle cx="503.5" cy="795.4" r="2.4"/><circle cx="481.5" cy="795.1" r="2.4"/><circle cx="517.1" cy="790.9" r="2.4"/><circle cx="549.7" cy="788.6" r="2.4"/><circle cx="538.7" cy="786.4" r="2.4"/><circle cx="524.7" cy="792.5" r="2.4"/><circle cx="503.2" cy="794.6" r="2.4"/><circle cx="518.5" cy="793.5" r="2.4"/><circle cx="549.6" cy="788.9" r="2.4"/><circle cx="501.7" cy="792.9" r="2.4"/><circle cx="544.6" cy="788.6" r="2.4"/><circle cx="518.7" cy="791.8" r="2.4"/><circle cx="522.6" cy="792.8" r="2.4"/><circle cx="544.4" cy="789.6" r="2.4"/><circle cx="503.7" cy="792.2" r="2.4"/><circle cx="497.0" cy="794.2" r="2.4"/><circle cx="550.8" cy="783.5" r="2.4"/><circle cx="546.2" cy="790.3" r="2.4"/><circle cx="521.1" cy="791.3" r="2.4"/><circle cx="513.2" cy="796.9" r="2.4"/><circle cx="506.8" cy="791.0" r="2.4"/><circle cx="512.8" cy="796.6" r="2.4"/><circle cx="496.6" cy="792.9" r="2.4"/><circle cx="523.1" cy="791.4" r="2.4"/><circle cx="509.0" cy="792.0" r="2.4"/><circle cx="539.3" cy="791.6" r="2.4"/><circle cx="475.0" cy="793.7" r="2.4"/><circle cx="547.9" cy="786.9" r="2.4"/><circle cx="535.8" cy="789.5" r="2.4"/><circle cx="486.2" cy="795.6" r="2.4"/><circle cx="552.1" cy="785.6" r="2.4"/><circle cx="511.5" cy="794.7" r="2.4"/><circle cx="524.9" cy="789.0" r="2.4"/><circle cx="483.3" cy="792.9" r="2.4"/><circle cx="534.1" cy="789.1" r="2.4"/><circle cx="500.6" cy="795.3" r="2.4"/><circle cx="497.4" cy="791.9" r="2.4"/><circle cx="502.5" cy="793.0" r="2.4"/><circle cx="557.0" cy="785.1" r="2.4"/><circle cx="555.9" cy="785.0" r="2.4"/><circle cx="557.5" cy="783.6" r="2.4"/><circle cx="557.6" cy="781.8" r="2.4"/><circle cx="557.6" cy="781.5" r="2.4"/><circle cx="560.1" cy="783.5" r="2.4"/><circle cx="556.2" cy="785.1" r="2.4"/><circle cx="558.5" cy="782.4" r="2.4"/><circle cx="556.9" cy="781.0" r="2.4"/><circle cx="557.1" cy="784.0" r="2.4"/><circle cx="556.2" cy="785.0" r="2.4"/><circle cx="556.8" cy="780.5" r="2.4"/><circle cx="555.4" cy="787.7" r="2.4"/><circle cx="557.2" cy="778.9" r="2.4"/><circle cx="583.3" cy="689.9" r="2.4"/><circle cx="577.5" cy="713.6" r="2.4"/><circle cx="578.7" cy="702.7" r="2.4"/><circle cx="566.6" cy="747.3" r="2.4"/><circle cx="572.2" cy="731.0" r="2.4"/><circle cx="568.1" cy="755.4" r="2.4"/><circle cx="569.6" cy="748.0" r="2.4"/><circle cx="576.0" cy="725.1" r="2.4"/><circle cx="564.4" cy="753.1" r="2.4"/><circle cx="583.3" cy="689.4" r="2.4"/><circle cx="563.7" cy="777.1" r="2.4"/><circle cx="577.5" cy="707.4" r="2.4"/><circle cx="578.4" cy="692.6" r="2.4"/><circle cx="580.6" cy="714.1" r="2.4"/><circle cx="573.6" cy="721.9" r="2.4"/><circle cx="560.5" cy="763.1" r="2.4"/><circle cx="565.5" cy="760.0" r="2.4"/><circle cx="582.6" cy="684.7" r="2.4"/><circle cx="557.8" cy="784.2" r="2.4"/><circle cx="571.5" cy="744.5" r="2.4"/><circle cx="586.2" cy="692.4" r="2.4"/><circle cx="581.9" cy="691.3" r="2.4"/><circle cx="560.2" cy="773.3" r="2.4"/><circle cx="575.5" cy="714.0" r="2.4"/><circle cx="568.5" cy="746.2" r="2.4"/><circle cx="583.5" cy="693.7" r="2.4"/><circle cx="568.6" cy="757.1" r="2.4"/><circle cx="578.1" cy="720.8" r="2.4"/><circle cx="576.6" cy="719.7" r="2.4"/><circle cx="580.6" cy="706.0" r="2.4"/><circle cx="576.1" cy="726.5" r="2.4"/><circle cx="584.4" cy="699.5" r="2.4"/><circle cx="568.4" cy="741.8" r="2.4"/><circle cx="566.4" cy="740.9" r="2.4"/><circle cx="566.9" cy="753.5" r="2.4"/><circle cx="562.6" cy="755.7" r="2.4"/><circle cx="560.9" cy="765.3" r="2.4"/><circle cx="561.0" cy="781.3" r="2.4"/><circle cx="578.4" cy="722.7" r="2.4"/><circle cx="565.4" cy="765.6" r="2.4"/><circle cx="580.5" cy="718.3" r="2.4"/><circle cx="578.7" cy="713.8" r="2.4"/><circle cx="572.1" cy="734.9" r="2.4"/><circle cx="583.8" cy="699.0" r="2.4"/><circle cx="581.7" cy="697.4" r="2.4"/><circle cx="579.2" cy="718.4" r="2.4"/><circle cx="578.2" cy="713.1" r="2.4"/><circle cx="581.0" cy="698.4" r="2.4"/><circle cx="564.8" cy="764.7" r="2.4"/><circle cx="564.4" cy="768.4" r="2.4"/><circle cx="577.5" cy="721.4" r="2.4"/><circle cx="561.6" cy="773.7" r="2.4"/><circle cx="577.9" cy="700.9" r="2.4"/><circle cx="580.1" cy="702.2" r="2.4"/><circle cx="579.5" cy="686.5" r="2.4"/><circle cx="558.4" cy="780.9" r="2.4"/><circle cx="559.6" cy="772.7" r="2.4"/><circle cx="560.7" cy="763.4" r="2.4"/><circle cx="562.5" cy="757.5" r="2.4"/><circle cx="564.2" cy="751.7" r="2.4"/><circle cx="566.6" cy="747.0" r="2.4"/><circle cx="590.0" cy="623.8" r="2.4"/><circle cx="590.9" cy="626.6" r="2.4"/><circle cx="591.0" cy="628.6" r="2.4"/><circle cx="590.4" cy="630.8" r="2.4"/><circle cx="590.5" cy="631.8" r="2.4"/><circle cx="591.1" cy="634.6" r="2.4"/><circle cx="590.4" cy="636.3" r="2.4"/><circle cx="591.1" cy="638.7" r="2.4"/><circle cx="590.3" cy="640.8" r="2.4"/><circle cx="589.7" cy="642.3" r="2.4"/><circle cx="590.9" cy="644.2" r="2.4"/><circle cx="590.8" cy="645.6" r="2.4"/><circle cx="590.7" cy="648.4" r="2.4"/><circle cx="590.4" cy="650.3" r="2.4"/><circle cx="589.9" cy="624.8" r="2.4"/><circle cx="591.6" cy="625.5" r="2.4"/><circle cx="593.1" cy="624.8" r="2.4"/><circle cx="595.7" cy="623.8" r="2.4"/><circle cx="597.4" cy="624.2" r="2.4"/><circle cx="599.6" cy="623.0" r="2.4"/><circle cx="601.6" cy="623.1" r="2.4"/><circle cx="603.1" cy="623.1" r="2.4"/><circle cx="605.3" cy="622.2" r="2.4"/><circle cx="607.2" cy="621.9" r="2.4"/><circle cx="603.4" cy="628.0" r="2.4"/><circle cx="604.5" cy="626.9" r="2.4"/><circle cx="609.2" cy="621.0" r="2.4"/><circle cx="611.5" cy="621.6" r="2.4"/><circle cx="613.9" cy="622.2" r="2.4"/><circle cx="618.5" cy="633.9" r="2.4"/><circle cx="617.4" cy="629.2" r="2.4"/><circle cx="625.5" cy="623.4" r="2.4"/><circle cx="626.7" cy="622.8" r="2.4"/><circle cx="630.7" cy="630.3" r="2.4"/><circle cx="631.4" cy="630.0" r="2.4"/><circle cx="634.3" cy="628.5" r="2.4"/><circle cx="635.9" cy="627.3" r="2.4"/><circle cx="637.8" cy="625.9" r="2.4"/><circle cx="640.0" cy="625.3" r="2.4"/><circle cx="641.2" cy="624.3" r="2.4"/><circle cx="643.4" cy="623.2" r="2.4"/><circle cx="645.6" cy="623.3" r="2.4"/><circle cx="643.6" cy="607.2" r="2.4"/><circle cx="644.3" cy="609.5" r="2.4"/><circle cx="644.6" cy="611.5" r="2.4"/><circle cx="643.9" cy="614.0" r="2.4"/><circle cx="643.5" cy="616.8" r="2.4"/><circle cx="643.5" cy="618.9" r="2.4"/><circle cx="644.5" cy="620.7" r="2.4"/><circle cx="643.9" cy="623.3" r="2.4"/></g>
<g fill="none" stroke="#3c3cf0" stroke-width="1.6"><circle cx="466.4" cy="799.2" r="2.1"/><circle cx="496.7" cy="799.5" r="2.1"/><circle cx="506.2" cy="798.8" r="2.1"/><circle cx="511.9" cy="799.2" r="2.1"/><circle cx="481.5" cy="796.3" r="2.1"/><circle cx="571.0" cy="746.7" r="2.1"/><circle cx="569.6" cy="757.0" r="2.1"/><circle cx="567.0" cy="762.2" r="2.1"/><circle cx="563.2" cy="767.3" r="2.1"/><circle cx="573.5" cy="749.0" r="2.1"/><circle cx="572.2" cy="752.0" r="2.1"/><circle cx="568.9" cy="756.4" r="2.1"/><circle cx="567.2" cy="761.0" r="2.1"/><circle cx="570.0" cy="751.7" r="2.1"/><circle cx="572.4" cy="747.0" r="2.1"/><circle cx="573.6" cy="750.0" r="2.1"/><circle cx="596.3" cy="644.5" r="2.1"/><circle cx="594.5" cy="638.6" r="2.1"/><circle cx="615.6" cy="643.3" r="2.1"/><circle cx="620.3" cy="645.7" r="2.1"/><circle cx="628.5" cy="639.8" r="2.1"/><circle cx="630.1" cy="640.3" r="2.1"/><circle cx="633.0" cy="633.9" r="2.1"/><circle cx="615.5" cy="643.2" r="2.1"/><circle cx="620.8" cy="646.1" r="2.1"/><circle cx="644.1" cy="642.0" r="2.1"/><circle cx="652.9" cy="631.0" r="2.1"/><circle cx="659.9" cy="623.4" r="2.1"/><circle cx="664.6" cy="607.0" r="2.1"/><circle cx="630.2" cy="638.5" r="2.1"/><circle cx="632.6" cy="633.3" r="2.1"/><circle cx="596.4" cy="644.4" r="2.1"/><circle cx="615.0" cy="643.2" r="2.1"/><circle cx="620.9" cy="646.1" r="2.1"/><circle cx="652.4" cy="630.4" r="2.1"/><circle cx="657.1" cy="623.4" r="2.1"/><circle cx="643.6" cy="642.0" r="2.1"/><circle cx="646.0" cy="607.0" r="2.1"/><circle cx="664.6" cy="607.0" r="2.1"/><circle cx="659.9" cy="623.4" r="2.1"/><circle cx="652.9" cy="630.9" r="2.1"/><circle cx="655.2" cy="628.0" r="2.1"/></g>
<g fill="none" stroke="#2e8a55" stroke-width="1.6"><circle cx="495.8" cy="799.5" r="2.1"/><circle cx="555.5" cy="774.5" r="2.1"/><circle cx="555.5" cy="775.0" r="2.1"/><circle cx="578.7" cy="691.3" r="2.1"/><circle cx="578.0" cy="701.6" r="2.1"/><circle cx="577.4" cy="712.6" r="2.1"/><circle cx="574.8" cy="746.7" r="2.1"/><circle cx="556.0" cy="773.9" r="2.1"/><circle cx="561.9" cy="763.4" r="2.1"/><circle cx="565.4" cy="758.7" r="2.1"/><circle cx="568.9" cy="752.8" r="2.1"/><circle cx="572.4" cy="745.0" r="2.1"/><circle cx="584.6" cy="666.8" r="2.1"/><circle cx="595.7" cy="672.6" r="2.1"/><circle cx="580.5" cy="680.8" r="2.1"/><circle cx="579.3" cy="691.4" r="2.1"/><circle cx="609.7" cy="672.6" r="2.1"/><circle cx="615.6" cy="668.0" r="2.1"/><circle cx="618.0" cy="675.0" r="2.1"/><circle cx="606.2" cy="679.6" r="2.1"/><circle cx="602.7" cy="684.3" r="2.1"/><circle cx="615.0" cy="682.0" r="2.1"/><circle cx="633.0" cy="659.0" r="2.1"/><circle cx="616.1" cy="668.9" r="2.1"/><circle cx="609.7" cy="672.4" r="2.1"/><circle cx="617.8" cy="674.7" r="2.1"/><circle cx="645.9" cy="607.0" r="2.1"/><circle cx="645.3" cy="618.7" r="2.1"/><circle cx="641.8" cy="636.8" r="2.1"/><circle cx="606.0" cy="620.0" r="2.1"/><circle cx="641.9" cy="636.8" r="2.1"/><circle cx="633.1" cy="658.4" r="2.1"/><circle cx="641.8" cy="636.8" r="2.1"/><circle cx="633.0" cy="659.0" r="2.1"/><circle cx="616.1" cy="668.9" r="2.1"/><circle cx="609.7" cy="672.4" r="2.1"/><circle cx="617.8" cy="674.7" r="2.1"/><circle cx="606.8" cy="678.2" r="2.1"/></g>
<line x1="437.80" y1="603.70" x2="683.40" y2="603.70" stroke="#000" stroke-width="1.2" />
<line x1="437.80" y1="603.70" x2="437.80" y2="801.00" stroke="#000" stroke-width="1.2" />
<line x1="437.80" y1="801.00" x2="683.40" y2="801.00" stroke="#000" stroke-width="1.2" />
<line x1="683.40" y1="603.70" x2="683.40" y2="801.00" stroke="#000" stroke-width="1.2" />
<line x1="437.80" y1="800.20" x2="440.80" y2="800.20" stroke="#000" stroke-width="1.0" />
<line x1="683.40" y1="800.20" x2="680.40" y2="800.20" stroke="#000" stroke-width="1.0" />
<text x="431.60" y="806.00" font-size="14" text-anchor="end" fill="#000" >0</text>
<line x1="437.80" y1="760.84" x2="440.80" y2="760.84" stroke="#000" stroke-width="1.0" />
<line x1="683.40" y1="760.84" x2="680.40" y2="760.84" stroke="#000" stroke-width="1.0" />
<text x="431.60" y="766.64" font-size="14" text-anchor="end" fill="#000" >0.2</text>
<line x1="437.80" y1="721.48" x2="440.80" y2="721.48" stroke="#000" stroke-width="1.0" />
<line x1="683.40" y1="721.48" x2="680.40" y2="721.48" stroke="#000" stroke-width="1.0" />
<text x="431.60" y="727.28" font-size="14" text-anchor="end" fill="#000" >0.4</text>
<line x1="437.80" y1="682.12" x2="440.80" y2="682.12" stroke="#000" stroke-width="1.0" />
<line x1="683.40" y1="682.12" x2="680.40" y2="682.12" stroke="#000" stroke-width="1.0" />
<text x="431.60" y="687.92" font-size="14" text-anchor="end" fill="#000" >0.6</text>
<line x1="437.80" y1="642.76" x2="440.80" y2="642.76" stroke="#000" stroke-width="1.0" />
<line x1="683.40" y1="642.76" x2="680.40" y2="642.76" stroke="#000" stroke-width="1.0" />
<text x="431.60" y="648.56" font-size="14" text-anchor="end" fill="#000" >0.8</text>
<line x1="437.80" y1="603.40" x2="440.80" y2="603.40" stroke="#000" stroke-width="1.0" />
<line x1="683.40" y1="603.40" x2="680.40" y2="603.40" stroke="#000" stroke-width="1.0" />
<text x="431.60" y="609.20" font-size="14" text-anchor="end" fill="#000" >1</text>
<line x1="444.10" y1="801.00" x2="444.10" y2="798.00" stroke="#000" stroke-width="1.0" />
<line x1="444.10" y1="603.70" x2="444.10" y2="606.70" stroke="#000" stroke-width="1.0" />
<text x="444.10" y="819.30" font-size="14" text-anchor="middle" fill="#000" >0</text>
<line x1="512.44" y1="801.00" x2="512.44" y2="798.00" stroke="#000" stroke-width="1.0" />
<line x1="512.44" y1="603.70" x2="512.44" y2="606.70" stroke="#000" stroke-width="1.0" />
<text x="512.44" y="819.30" font-size="14" text-anchor="middle" fill="#000" >0.2</text>
<line x1="580.78" y1="801.00" x2="580.78" y2="798.00" stroke="#000" stroke-width="1.0" />
<line x1="580.78" y1="603.70" x2="580.78" y2="606.70" stroke="#000" stroke-width="1.0" />
<text x="580.78" y="819.30" font-size="14" text-anchor="middle" fill="#000" >0.4</text>
<line x1="649.12" y1="801.00" x2="649.12" y2="798.00" stroke="#000" stroke-width="1.0" />
<line x1="649.12" y1="603.70" x2="649.12" y2="606.70" stroke="#000" stroke-width="1.0" />
<text x="649.12" y="819.30" font-size="14" text-anchor="middle" fill="#000" >0.6</text>
<text transform="translate(403.0,702.7) rotate(-90)" font-size="14.6" text-anchor="middle" fill="#000">Neutral transmission</text>
<text x="525.6" y="840.3" font-size="14" fill="#111">G<tspan font-size="10" dy="3.5">QPC</tspan><tspan dy="-3.5"> (</tspan><tspan font-style="italic">e</tspan><tspan font-size="10" dy="-5">2</tspan><tspan dy="5">/</tspan><tspan font-style="italic">h</tspan>)</text>
<rect x="541" y="619.5" width="38" height="21" fill="#fff"/>
<text x="513.6" y="633.0" font-size="13" fill="#111" font-family="Liberation Serif, serif" font-style="italic">ν</text>
<text x="519.0" y="638.7" font-size="10.6" fill="#111">QPC</text>
<text x="543.4" y="634.8" font-size="15" fill="#111">= 1/3</text>
<text x="463.60" y="703.50" font-size="14.2" text-anchor="start" fill="#000" >Sample 1</text>
<text x="610.60" y="703.50" font-size="14.2" text-anchor="start" fill="#000" >Sample 2</text>
<circle cx="462.0" cy="719.8" r="3.6" fill="#3c3cf0"/>
<circle cx="462.0" cy="742.5" r="3.6" fill="#2e8a55"/>
<circle cx="606.4" cy="719.8" r="2.9" fill="none" stroke="#3c3cf0" stroke-width="1.7"/>
<circle cx="606.4" cy="742.5" r="2.9" fill="none" stroke="#2e8a55" stroke-width="1.7"/>
<text x="470.0" y="720.6" font-size="13" fill="#111" font-family="Liberation Serif, serif" font-style="italic">ν</text>
<text x="475.6" y="726.3000000000001" font-size="10.6" fill="#111">B</text>
<text x="484.8" y="722.1" font-size="14.6" fill="#111">= 2/3</text>
<text x="470.0" y="743.9" font-size="13" fill="#111" font-family="Liberation Serif, serif" font-style="italic">ν</text>
<text x="475.6" y="749.6" font-size="10.6" fill="#111">B</text>
<text x="484.8" y="745.4" font-size="14.6" fill="#111">= 3/5</text>
<text x="616.5" y="720.6" font-size="13" fill="#111" font-family="Liberation Serif, serif" font-style="italic">ν</text>
<text x="622.1" y="726.3000000000001" font-size="10.6" fill="#111">B</text>
<text x="631.3" y="722.1" font-size="14.6" fill="#111">= 2/3</text>
<text x="616.5" y="743.9" font-size="13" fill="#111" font-family="Liberation Serif, serif" font-style="italic">ν</text>
<text x="622.1" y="749.6" font-size="10.6" fill="#111">B</text>
<text x="631.3" y="745.4" font-size="14.6" fill="#111">= 3/5</text>
</svg></body></html>
